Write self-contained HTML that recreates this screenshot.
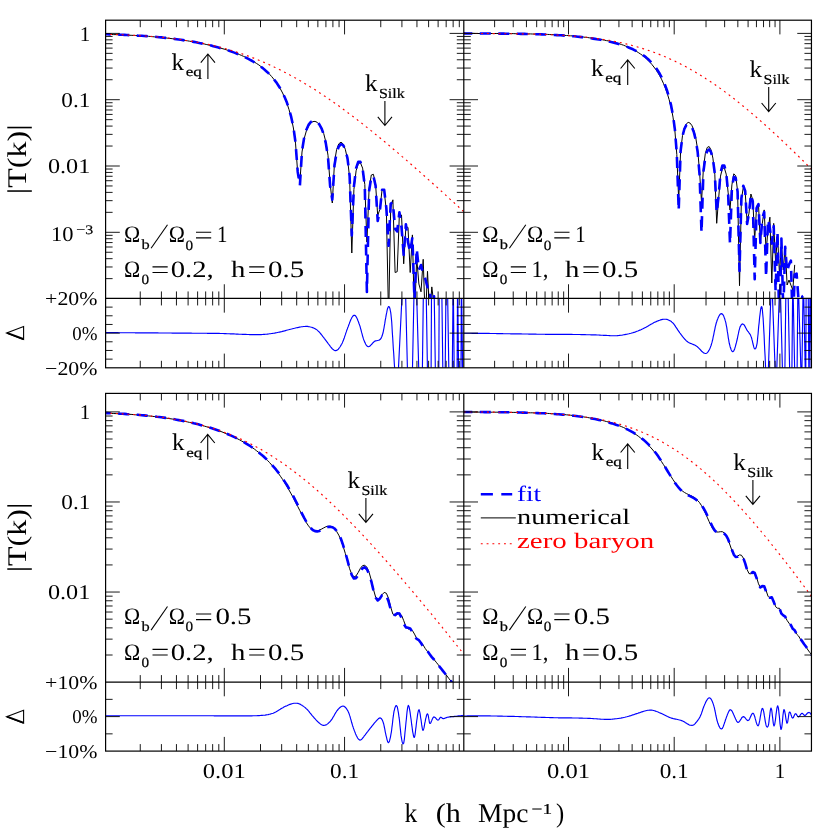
<!DOCTYPE html>
<html><head><meta charset="utf-8"><title>Transfer function</title>
<style>html,body{margin:0;padding:0;background:#fff}svg{display:block;will-change:transform}text{font-family:"Liberation Serif",serif;text-rendering:geometricPrecision}</style>
</head><body>
<svg width="830" height="830" viewBox="0 0 830 830">
<rect width="830" height="830" fill="#fff"/>
<defs>
<clipPath id="cTL"><rect x="105.6" y="20.2" width="358.20000000000005" height="278.25"/></clipPath>
<clipPath id="cTR"><rect x="463.8" y="20.2" width="347.65000000000003" height="278.25"/></clipPath>
<clipPath id="cBL"><rect x="105.6" y="393.4" width="358.20000000000005" height="288.70000000000005"/></clipPath>
<clipPath id="cBR"><rect x="463.8" y="393.4" width="347.65000000000003" height="288.70000000000005"/></clipPath>
<clipPath id="rTL"><rect x="105.6" y="298.45" width="358.20000000000005" height="69.35000000000002"/></clipPath>
<clipPath id="rTR"><rect x="463.8" y="298.45" width="347.65000000000003" height="69.35000000000002"/></clipPath>
<clipPath id="rBL"><rect x="105.6" y="682.1" width="358.20000000000005" height="69.0"/></clipPath>
<clipPath id="rBR"><rect x="463.8" y="682.1" width="347.65000000000003" height="69.0"/></clipPath>
</defs>
<g clip-path="url(#cTL)" fill="none" stroke-linejoin="round">
<path d="M81.3,33.8 83.5,33.8 85.7,33.8 87.8,33.9 90,33.9 92.2,34 94.3,34 96.5,34 98.6,34.1 100.8,34.1 103,34.2 105.1,34.2 107.3,34.4 109.5,34.4 111.6,34.5 113.8,34.6 116,34.6 118.1,34.7 120.3,34.8 122.4,34.9 124.6,35 126.8,35.1 128.9,35.2 131.1,35.3 133.3,35.4 135.4,35.5 137.6,35.6 139.8,35.8 141.9,35.9 144.1,36 146.2,36.2 148.4,36.3 150.6,36.5 152.7,36.7 154.9,36.9 157.1,37.1 159.2,37.3 161.4,37.5 163.6,37.7 165.7,37.9 167.9,38.2 170,38.4 172.2,38.7 174.4,38.9 176.5,39.2 178.7,39.5 180.9,39.8 183,40.1 185.2,40.5 187.4,40.8 189.5,41.2 191.7,41.5 193.8,41.9 196,42.3 198.2,42.7 200.3,43.2 202.5,43.6 204.7,44.1 206.8,44.6 209,45.1 211.2,45.6 213.3,46.1 215.5,46.7 217.6,47.3 219.8,47.9 222,48.5 224.1,49.1 226.3,49.8 228.5,50.5 230.6,51.2 232.8,52 235,52.8 237.1,53.6 239.3,54.5 241.4,55.4 243.6,56.4 245.8,57.4 247.9,58.4 250.1,59.6 252.3,60.8 254.4,62.1 256.6,63.5 258.8,64.9 260.9,66.5 263.1,68.2 265.2,70.1 267.4,72.1 269.6,74.3 271.7,76.6 273.9,79.3 276.1,82.1 278.2,85.3 280.4,88.9 282.6,93 284.7,97.7 286.9,103.1 289,109.6 291.2,117.5 293.4,128 295.5,143.1 297.7,172.6 299.9,181.6 302,152 304.2,138.5 306.4,130.8 308.5,126 310.7,123.1 312.8,121.6 315,121.4 317.2,122.3 319.3,124.5 321.5,128 323.7,133.5 325.8,141.8 328,155.3 330.1,183.4 332.3,203 334.5,162.2 336.6,149.6 338.8,143.8 341,142.2 343.1,143.9 345.3,149.3 347.5,159.1 349.6,177.3 351.8,253 353.9,189.5 356.1,170.8 358.3,163.6 360.4,162.7 362.6,168.1 364.8,184.5 366.9,242 369.1,188.7 371.3,175 373.4,174.3 375.6,184.5 377.7,215.4 379.9,209.4 382.1,189.4 384.2,191 386.4,211.3 388.6,320 390.7,207.4 392.9,199.8 395.1,272.5 397.2,271.7 399.4,213.4 401.5,215 403.7,263.8 405.9,226.8 408,227.4 410.2,272.5 412.4,234.9 414.5,320 416.7,257.8 418.9,284 421,291.8 423.2,259.3 425.3,322.8 427.5,271.3 429.7,316.4 431.8,286.9 434,304.9 436.2,315.9 438.3,306.9 440.5,350 442.7,335.7 444.8,332.3 447,354.2 449.1,475.5 451.3,377.3 453.5,375.8 455.6,384.5 457.8,397.4 460,411.6 462.1,425 464.3,437.3 466.5,449.4 468.6,464 470.8,486.6 472.9,497.5 475.1,497.5 477.3,497.5 479.4,497.5 481.6,497.5 483.8,497.5 485.9,497.5 488.1,497.5 490.3,497.5 492.4,497.5 494.6,497.5 496.7,497.5 498.9,497.5 501.1,497.5 503.2,497.5 505.4,497.5 507.6,497.5" stroke="#000" stroke-width="1"/>
<path d="M81.3,33.8 83.5,33.8 85.7,33.8 87.8,33.9 90,33.9 92.2,34 94.3,34 96.5,34 98.6,34.1 100.8,34.1 103,34.2 105.1,34.2 107.3,34.3 109.5,34.4 111.6,34.4 113.8,34.5 116,34.6 118.1,34.6 120.3,34.7 122.4,34.8 124.6,34.9 126.8,35 128.9,35.1 131.1,35.2 133.3,35.3 135.4,35.4 137.6,35.6 139.8,35.7 141.9,35.8 144.1,36 146.2,36.1 148.4,36.3 150.6,36.5 152.7,36.7 154.9,36.8 157.1,37 159.2,37.2 161.4,37.4 163.6,37.7 165.7,37.9 167.9,38.1 170,38.4 172.2,38.7 174.4,38.9 176.5,39.2 178.7,39.5 180.9,39.8 183,40.1 185.2,40.5 187.4,40.8 189.5,41.2 191.7,41.5 193.8,41.9 196,42.3 198.2,42.8 200.3,43.2 202.5,43.6 204.7,44.1 206.8,44.6 209,45.1 211.2,45.6 213.3,46.2 215.5,46.7 217.6,47.3 219.8,47.9 222,48.5 224.1,49.2 226.3,49.9 228.5,50.6 230.6,51.3 232.8,52.1 235,52.9 237.1,53.8 239.3,54.7 241.4,55.6 243.6,56.6 245.8,57.6 247.9,58.7 250.1,59.8 252.3,61 254.4,62.3 256.6,63.7 258.8,65.2 260.9,66.8 263.1,68.4 265.2,70.3 267.4,72.2 269.6,74.4 271.7,76.7 273.9,79.3 276.1,82.1 278.2,85.2 280.4,88.7 282.6,92.7 284.7,97.3 286.9,102.6 289,109 291.2,116.9 293.4,127.2 295.5,142.3 297.7,171.7 299.9,185.6 302,151 304.2,137.4 306.4,129.7 308.5,124.9 310.7,122.1 312.8,120.7 315,120.6 317.2,121.8 319.3,124.3 321.5,128.3 323.7,134.3 325.8,143.1 328,157 330.1,185.7 332.3,199.7 334.5,165.3 336.6,152.6 338.8,146.5 341,144.2 343.1,145.2 345.3,149.5 347.5,158.4 349.6,175.6 351.8,235.4 353.9,186.7 356.1,168.1 358.3,161.7 360.4,161.9 362.6,168.6 364.8,186.1 366.9,291.9 369.1,191 371.3,177 373.4,175.9 375.6,185.8 377.7,220.9 379.9,210.5 382.1,189.8 384.2,189.9 386.4,208.5 388.6,245.8 390.7,203.6 392.9,202.4 395.1,229 397.2,231.4 399.4,212.3 401.5,227.2 403.7,254.8 405.9,224.2 408,242.5 410.2,252.2 412.4,237.2 414.5,300.7 416.7,248.7 418.9,269.8 421,265 423.2,273.4 425.3,278.8 427.5,287.2 429.7,287.3 431.8,316.1 434,296.2 436.2,346.5 438.3,318.3 440.5,322.1 442.7,373.6 444.8,351.8 447,347.7 449.1,362.1 451.3,392.2 453.5,497.5 455.6,420.7 457.8,419.8 460,428.4 462.1,442.2 464.3,461.9 466.5,496.9 468.6,497.5 470.8,494.6 472.9,497.4 475.1,497.5 477.3,497.5 479.4,497.5 481.6,497.5 483.8,497.5 485.9,497.5 488.1,497.5 490.3,497.5 492.4,497.5 494.6,497.5 496.7,497.5 498.9,497.5 501.1,497.5 503.2,497.5 505.4,497.5 507.6,497.5" stroke="#0000ff" stroke-width="2.6" stroke-dasharray="11 7.5"/>
<path d="M98.5,34.1 100.9,34.1 103.2,34.2 105.5,34.2 107.9,34.3 110.2,34.4 112,34.4 113.7,34.5 115.5,34.5 117.2,34.6 118.9,34.7 120.7,34.7 122.4,34.8 124.2,34.9 125.9,34.9 127.7,35 129.4,35.1 131.2,35.2 132.9,35.3 134.7,35.4 136.4,35.5 138.2,35.6 139.9,35.7 141.7,35.8 143.4,35.9 145.2,36 146.9,36.1 148.7,36.2 150.4,36.4 152.2,36.5 153.9,36.7 155.7,36.8 157.4,37 159.2,37.1 160.9,37.3 162.7,37.4 164.4,37.6 166.2,37.8 167.9,38 169.7,38.2 171.4,38.4 173.2,38.6 174.9,38.8 176.7,39 178.4,39.3 180.1,39.5 181.9,39.7 183.6,40 185.4,40.3 187.1,40.5 188.9,40.8 190.6,41.1 192.4,41.4 194.1,41.7 195.9,42 197.6,42.3 199.4,42.6 201.1,43 202.9,43.3 204.6,43.7 206.4,44.1 208.1,44.4 209.9,44.8 211.6,45.2 213.4,45.6 215.1,46 216.9,46.5 218.6,46.9 220.4,47.3 222.1,47.8 223.9,48.3 225.6,48.8 227.4,49.3 229.1,49.8 230.9,50.3 232.6,50.8 234.4,51.3 236.1,51.9 237.9,52.5 239.6,53 241.4,53.6 243.1,54.2 244.8,54.8 246.6,55.5 248.3,56.1 250.1,56.7 251.8,57.4 253.6,58.1 255.3,58.8 257.1,59.5 258.8,60.2 260.6,60.9 262.3,61.6 264.1,62.4 265.8,63.2 267.6,63.9 269.3,64.7 271.1,65.5 272.8,66.3 274.6,67.2 276.3,68 278.1,68.9 279.8,69.7 281.6,70.6 283.3,71.5 285.1,72.4 286.8,73.3 288.6,74.2 290.3,75.2 291.5,75.8 292.6,76.5 293.8,77.1 295,77.8 296.1,78.4 297.3,79.1 298.5,79.7 299.6,80.4 300.8,81.1 302,81.8 303.1,82.5 304.3,83.2 305.5,83.9 306.6,84.6 307.8,85.3 309,86 310.1,86.7 311.3,87.4 312.5,88.2 313.6,88.9 314.8,89.6 316,90.4 317.1,91.1 318.3,91.9 319.5,92.7 320.6,93.4 321.8,94.2 323,95 324.1,95.8 325.3,96.5 326.5,97.3 327.6,98.1 328.8,98.9 329.9,99.7 331.1,100.5 332.3,101.3 333.4,102.2 334.6,103 335.8,103.8 336.9,104.6 338.1,105.5 339.3,106.3 340.4,107.2 341.6,108 342.8,108.9 343.9,109.7 345.1,110.6 346.3,111.4 347.4,112.3 348.6,113.2 349.8,114 350.9,114.9 352.1,115.8 353.3,116.7 354.4,117.6 355.6,118.5 356.8,119.4 357.9,120.3 359.1,121.2 360.3,122.1 361.4,123 362.6,123.9 363.8,124.8 364.9,125.7 366.1,126.7 367.3,127.6 368.4,128.5 369.6,129.5 370.7,130.4 371.9,131.3 373.1,132.3 374.2,133.2 375.4,134.2 376.6,135.1 377.7,136.1 378.9,137 380.1,138 381.2,138.9 382.4,139.9 383.6,140.9 384.7,141.8 385.9,142.8 387.1,143.8 388.2,144.7 389.4,145.7 390.6,146.7 391.7,147.7 392.9,148.7 394.1,149.7 395.2,150.6 396.4,151.6 397.6,152.6 398.7,153.6 399.9,154.6 401.1,155.6 402.2,156.6 403.4,157.6 404.6,158.6 405.7,159.6 406.9,160.6 408.1,161.6 409.2,162.7 410.4,163.7 411.6,164.7 412.7,165.7 413.9,166.7 415,167.7 416.2,168.8 417.4,169.8 418.5,170.8 419.7,171.8 420.9,172.9 422,173.9 423.2,174.9 424.4,176 425.5,177 426.7,178 427.9,179.1 429,180.1 430.2,181.2 431.4,182.2 432.5,183.2 433.7,184.3 434.9,185.3 436,186.4 437.2,187.4 438.4,188.5 439.5,189.5 440.7,190.6 441.9,191.6 443,192.7 444.2,193.8 445.4,194.8 446.5,195.9 447.7,196.9 448.9,198 450,199.1 451.2,200.1 452.4,201.2 453.5,202.3 454.7,203.3 455.8,204.4 457,205.5 458.2,206.5 459.3,207.6 460.5,208.7 461.7,209.8 462.8,210.8 464,211.9 465.2,213 466.3,214.1 467.5,215.2 468.7,216.2 469.8,217.3 471,218.4 472.2,219.5 473.3,220.6 474.5,221.7 475.7,222.8 476.8,223.8 478,224.9 479.2,226 480.3,227.1 481.5,228.2 482.7,229.3 483.8,230.4 485,231.5 486.2,232.6 487.3,233.7 488.5,234.8 489.7,235.9 490.8,237 492,238.1 493.2,239.2 494.3,240.3 495.5,241.4 496.7,242.5 497.8,243.6 499,244.7 500.1,245.8 501.3,247 502.5,248.1 503.6,249.2 504.8,250.3 506,251.4" stroke="#ff0000" stroke-width="1.15" stroke-dasharray="1.9 3.9"/>
</g>
<g clip-path="url(#rTL)" fill="none" stroke="#0000ff" stroke-width="1.15" stroke-linejoin="round">
<path d="M105.6,332.6 106.9,332.6 108.3,332.6 109.6,332.6 110.9,332.6 112.3,332.6 113.6,332.6 114.9,332.6 116.3,332.6 117.6,332.6 119,332.7 120.3,332.7 121.6,332.7 123,332.7 124.3,332.7 125.6,332.7 127,332.7 128.3,332.7 129.6,332.7 131,332.7 132.3,332.7 133.6,332.7 135,332.8 136.3,332.8 137.6,332.8 139,332.8 140.3,332.8 141.6,332.8 143,332.8 144.3,332.8 145.7,332.8 147,332.9 148.3,332.9 149.7,332.9 151,332.9 152.3,332.9 153.7,332.9 155,332.9 156.3,332.9 157.7,332.9 159,333 160.3,333 161.7,333 163,333 164.3,333 165.7,333 167,333 168.4,333 169.7,333 171,333 172.4,333.1 173.7,333.1 175,333.1 176.4,333.1 177.7,333.1 179,333.1 180.4,333.1 181.7,333.1 183,333.1 184.4,333.1 185.7,333.1 187,333.1 188.4,333.1 189.7,333.1 191.1,333.1 192.4,333.2 193.7,333.2 195.1,333.2 196.4,333.2 197.7,333.2 199.1,333.2 200.4,333.2 201.7,333.2 203.1,333.2 204.4,333.2 205.7,333.2 207.1,333.3 208.4,333.3 209.7,333.3 211.1,333.3 212.4,333.3 213.7,333.3 215.1,333.4 216.4,333.4 217.8,333.4 219.1,333.4 220.4,333.5 221.8,333.5 223.1,333.5 224.4,333.6 225.8,333.6 227.1,333.7 228.4,333.7 229.8,333.8 231.1,333.8 232.4,333.9 233.8,333.9 235.1,334 236.4,334.1 237.8,334.1 239.1,334.2 240.5,334.2 241.8,334.3 243.1,334.3 244.5,334.4 245.8,334.4 247.1,334.5 248.5,334.5 249.8,334.6 251.1,334.6 252.5,334.6 253.8,334.6 255.1,334.6 255.8,334.6 257.1,334.6 258.5,334.6 259.8,334.6 261.1,334.6 262.5,334.5 263.5,334.4 264.5,334.4 265.5,334.3 266.5,334.2 267.5,334.1 268.5,334 269.5,333.8 270.5,333.7 271.5,333.5 272.5,333.4 273.5,333.2 274.5,333.1 275.5,332.9 276.5,332.7 277.5,332.5 278.5,332.3 279.5,332.1 280.5,331.9 281.5,331.7 282.5,331.4 283.5,331.1 284.5,330.9 285.5,330.6 286.5,330.3 287.5,330 288.5,329.8 289.5,329.5 290.5,329.2 291.5,329 292.5,328.7 293.5,328.5 294.5,328.3 295.5,328 296.5,327.8 297.5,327.6 298.5,327.4 299.5,327.1 300.5,327 301.5,326.8 302.5,326.7 303.5,326.5 304.5,326.5 305.9,326.4 306.2,326.4 307.5,326.4 308.5,326.6 309.5,326.7 310.5,327 311.6,327.3 312.6,327.6 313.6,328 314.6,328.5 315.6,329 316.2,329.4 316.9,329.9 317.6,330.4 318.2,331.1 318.9,331.7 319.6,332.4 320.2,333.2 320.9,334 321.6,334.8 322.2,335.7 322.9,336.6 323.6,337.4 324.2,338.3 324.9,339.2 325.6,340.1 326.2,340.9 326.9,341.8 327.6,342.7 328.2,343.6 328.9,344.5 329.6,345.4 330.2,346.3 330.9,347.2 331.6,348 332.2,348.7 332.9,349.3 333.6,349.8 334.2,350.2 335.2,350.6 335.6,350.6 336.6,350.4 337.6,349.8 338.3,349.2 338.9,348.4 339.6,347.5 340.3,346.5 340.9,345.4 341.6,344.2 342.3,342.9 342.9,341.4 343.3,340.6 343.6,339.7 343.9,338.8 344.3,337.9 344.6,336.9 344.9,335.9 345.3,334.9 345.6,333.9 345.9,332.9 346.3,331.9 346.6,330.9 346.9,329.9 347.3,329 347.6,328.1 347.9,327.2 348.3,326.4 348.6,325.5 348.9,324.6 349.3,323.7 349.6,322.8 349.9,321.9 350.3,321.1 350.6,320.3 350.9,319.5 351.3,318.8 351.9,317.5 352.6,316.5 353.3,315.7 353.9,315.3 354.3,315.2 355.3,315.6 355.9,316.4 356.6,317.5 357.3,318.9 357.6,319.7 357.9,320.5 358.3,321.4 358.6,322.3 358.9,323.2 359.3,324.2 359.6,325.1 360,326.2 360.3,327.3 360.6,328.6 361,329.8 361.3,331.1 361.6,332.4 362,333.7 362.3,334.9 362.6,336.1 363,337.3 363.3,338.4 363.6,339.4 364,340.3 364.3,341.1 364.6,341.9 365,342.6 365.6,344 366.3,345.1 367,346 367.6,346.5 368.3,346.7 369.3,346.4 370,346 370.6,345.4 371.3,344.7 372,344 372.6,343.2 373.3,342.5 374,341.8 374.6,341.3 375.6,340.9 376.6,340.7 377.6,340.5 378.6,340.3 379.6,339.9 380.3,339.3 381,338.4 381.6,337 382,336.2 382.3,335.3 382.6,334.2 383,333 383.3,331.6 383.6,329.9 384,328 384.3,326 384.7,323.9 385,321.8 385.3,319.8 385.7,317.9 386,316.1 386.3,314.4 386.7,312.7 387,311 387.3,309.5 387.7,308.3 388,307.3 388.7,306.5 389.3,307 389.7,307.8 390,308.9 390.3,310.5 390.7,312.4 391,314.8 391.3,317.7 391.7,321.8 392,326.8 392.3,332.3 392.7,337.8 393,343 393.3,348.2 393.7,353.3 394,358.4 394.3,363.5 394.7,368.7 395,373.9 395.3,379.2 395.7,384.5 396,390 397.3,392.1 403.1,274.2 405.1,274.2 408,392.1 412,392.1 414.4,274.2 416.1,274.2 419.4,392.1 422.1,392.1 423.6,274.2 425.9,274.2 427.8,392.1 431,392.1 431.6,274.2 433.9,274.2 435.7,392.1 438.7,392.1 439.3,274.2 441.6,274.2 443.1,392.1 445,392.1 446.1,274.2 447.3,274.2 449.2,392.1 452.1,392.1 453.2,274.2 454.4,392.1 457,392.1 457.6,274.2 458.8,392.1 460.9,392.1 461.4,274.2 462.9,392.1"/>
</g>
<g clip-path="url(#cTR)" fill="none" stroke-linejoin="round">
<path d="M442.8,33.4 444.7,33.4 446.6,33.4 448.5,33.4 450.4,33.4 452.3,33.4 454.2,33.4 456.2,33.4 458.1,33.4 460,33.4 461.9,33.4 463.8,33.4 465.7,33.4 467.6,33.4 469.5,33.4 471.4,33.4 473.3,33.4 475.2,33.5 477.1,33.5 479,33.5 480.9,33.5 482.8,33.5 484.7,33.5 486.6,33.5 488.5,33.5 490.4,33.5 492.3,33.5 494.2,33.5 496.1,33.5 498,33.5 499.9,33.5 501.8,33.5 503.7,33.6 505.6,33.6 507.5,33.6 509.4,33.6 511.3,33.6 513.2,33.6 515.1,33.7 517,33.7 518.9,33.7 520.8,33.7 522.7,33.8 524.6,33.8 526.5,33.8 528.4,33.9 530.3,33.9 532.2,34 534.1,34 536,34 537.9,34.1 539.8,34.2 541.7,34.2 543.6,34.3 545.5,34.4 547.4,34.4 549.3,34.5 551.2,34.6 553.1,34.7 555,34.8 556.9,34.9 558.8,35 560.7,35.1 562.7,35.2 564.6,35.4 566.5,35.5 568.4,35.6 570.3,35.8 572.2,35.9 574.1,36.1 576,36.3 577.9,36.5 579.8,36.7 581.7,36.9 583.6,37.1 585.5,37.3 587.4,37.5 589.3,37.8 591.2,38 593.1,38.3 595,38.6 596.9,38.9 598.8,39.2 600.7,39.5 602.6,39.8 604.5,40.2 606.4,40.6 608.3,40.9 610.2,41.4 612.1,41.8 614,42.3 615.9,42.8 617.8,43.3 619.7,43.9 621.6,44.6 623.5,45.2 625.4,46 627.3,46.7 629.2,47.6 631.1,48.5 633,49.4 634.9,50.4 636.8,51.6 638.7,52.8 640.6,54.1 642.5,55.4 644.4,57 646.3,58.6 648.2,60.4 650.1,62.4 652,64.6 653.9,67 655.8,69.5 657.7,72.4 659.6,75.6 661.5,79.2 663.4,83.3 665.3,87.9 667.2,93.2 669.1,99.5 671.1,107.2 673,117.1 674.9,130.8 676.8,154.5 678.7,200 680.6,151.1 682.5,135.6 684.4,127.9 686.3,123.9 688.2,122.4 690.1,123.1 692,125.7 693.9,130.4 695.8,138 697.7,150 699.6,172.3 701.5,202 703.4,168.5 705.3,153.6 707.2,147.5 709.1,146.5 711,149.8 712.9,158.1 714.8,174.2 716.7,223.3 718.6,198.8 720.5,176.1 722.4,168.5 724.3,167.9 726.2,174.1 728.1,192.2 730,210 731.9,184.9 733.8,173.8 735.7,175.8 737.6,191.1 739.5,285.7 741.4,199.5 743.3,187.3 745.2,192 747.1,222 749,213.1 750.9,194 752.8,200 754.7,240 756.6,206 758.5,204.8 760.4,243 762.3,223.5 764.2,209.9 766.1,252 768,229.1 769.9,217.2 771.8,283 773.7,223.4 775.6,262 777.5,234.2 779.5,275 781.4,242.6 783.3,270 785.2,246.2 787.1,285 789,280 790.9,285.1 792.8,290 794.7,264.9" stroke="#000" stroke-width="1"/>
<path d="M442.8,33.4 444.7,33.4 446.6,33.4 448.5,33.4 450.4,33.4 452.3,33.4 454.2,33.4 456.2,33.4 458.1,33.4 460,33.4 461.9,33.4 463.8,33.4 465.7,33.5 467.6,33.5 469.5,33.5 471.4,33.5 473.3,33.5 475.2,33.5 477.1,33.5 479,33.5 480.9,33.5 482.8,33.5 484.7,33.5 486.6,33.5 488.5,33.5 490.4,33.5 492.3,33.6 494.2,33.6 496.1,33.6 498,33.6 499.9,33.6 501.8,33.6 503.7,33.6 505.6,33.7 507.5,33.7 509.4,33.7 511.3,33.7 513.2,33.7 515.1,33.8 517,33.8 518.9,33.8 520.8,33.9 522.7,33.9 524.6,33.9 526.5,34 528.4,34 530.3,34.1 532.2,34.1 534.1,34.2 536,34.2 537.9,34.3 539.8,34.3 541.7,34.4 543.6,34.5 545.5,34.5 547.4,34.6 549.3,34.7 551.2,34.8 553.1,34.9 555,35 556.9,35.1 558.8,35.2 560.7,35.3 562.7,35.4 564.6,35.6 566.5,35.7 568.4,35.9 570.3,36 572.2,36.2 574.1,36.3 576,36.5 577.9,36.7 579.8,36.9 581.7,37.1 583.6,37.3 585.5,37.5 587.4,37.8 589.3,38 591.2,38.3 593.1,38.6 595,38.9 596.9,39.2 598.8,39.5 600.7,39.8 602.6,40.2 604.5,40.6 606.4,40.9 608.3,41.3 610.2,41.8 612.1,42.2 614,42.7 615.9,43.2 617.8,43.7 619.7,44.3 621.6,44.9 623.5,45.5 625.4,46.2 627.3,46.9 629.2,47.7 631.1,48.5 633,49.3 634.9,50.3 636.8,51.3 638.7,52.3 640.6,53.5 642.5,54.8 644.4,56.1 646.3,57.6 648.2,59.3 650.1,61.1 652,63.1 653.9,65.3 655.8,67.7 657.7,70.5 659.6,73.5 661.5,77 663.4,81 665.3,85.7 667.2,91 669.1,97.5 671.1,105.4 673,115.5 674.9,129.6 676.8,153.7 678.7,210.5 680.6,151.2 682.5,136.2 684.4,128.8 686.3,125.2 688.2,124 690.1,124.8 692,127.5 693.9,132.4 695.8,140.1 697.7,152.4 699.6,175.1 701.5,232.7 703.4,171.9 705.3,157.2 707.2,151 709.1,149.5 711,152 712.9,159 714.8,173.5 716.7,212.7 718.6,196.2 720.5,173.1 722.4,165.5 724.3,165.5 726.2,172.7 728.1,192.8 730,243.9 731.9,188 733.8,176.9 735.7,177.9 737.6,191.8 739.5,271 741.4,198.1 743.3,185.8 745.2,191 747.1,224 749,213 750.9,194.5 752.8,201.7 754.7,279.2 756.6,208.1 758.5,204.1 760.4,242.9 762.3,218.1 764.2,212 766.1,277 768,219.6 769.9,228.3 771.8,243.6 773.7,226.1 775.6,291.1 777.5,231.5 779.5,338.4 781.4,238.5 783.3,311.3 785.2,246.9 787.1,271.7 789,264.6 790.9,260.6 792.8,330 794.7,274.4 796.6,273.6 798.5,299.8 800.4,324 802.3,296.5 804.2,295.1 806.1,301.5 808,311.4 809.9,321.6 811.8,329.9 813.7,335.3 815.6,339.2 817.5,344.7" stroke="#0000ff" stroke-width="2.6" stroke-dasharray="11 7.5"/>
<path d="M458,33.4 460,33.4 462.1,33.4 464.1,33.4 466.2,33.5 468.2,33.5 470.3,33.5 472.3,33.5 474.4,33.5 476.4,33.5 478.5,33.5 480.5,33.5 482.6,33.5 484.6,33.5 486.7,33.5 488.7,33.5 490.8,33.5 492.8,33.6 494.9,33.6 496.9,33.6 499,33.6 501,33.6 503,33.6 505.1,33.7 507.1,33.7 509.2,33.7 511.2,33.7 513.3,33.7 515.3,33.8 517.4,33.8 519.4,33.8 521.5,33.9 523.5,33.9 525.6,33.9 527.6,34 529.7,34 531.7,34.1 533.8,34.1 535.8,34.2 537.9,34.2 539.9,34.3 542,34.4 544,34.4 546.1,34.5 548.1,34.6 550.2,34.7 552.2,34.8 554.3,34.9 556.3,35 558.4,35.1 560.4,35.2 562.5,35.3 564.5,35.4 566.6,35.5 568.6,35.7 570.7,35.8 572.7,36 574.8,36.1 576.8,36.3 578.9,36.5 580.9,36.7 583,36.9 585,37.1 587.1,37.3 589.1,37.5 591.2,37.8 593.2,38 595.3,38.3 597.3,38.6 599.4,38.9 601.4,39.2 603.5,39.5 605.5,39.8 607.6,40.2 609.1,40.4 610.6,40.7 612.2,41 613.7,41.3 615.3,41.6 616.8,41.9 618.3,42.2 619.9,42.5 621.4,42.8 622.9,43.2 624.5,43.5 626,43.9 627.6,44.3 629.1,44.7 630.6,45 632.2,45.5 633.7,45.9 635.2,46.3 636.8,46.7 638.3,47.2 639.8,47.6 641.4,48.1 642.9,48.6 644.5,49.1 646,49.6 647.5,50.1 649.1,50.6 650.6,51.1 652.1,51.7 653.7,52.2 655.2,52.8 656.8,53.4 658.3,54 659.8,54.6 661.4,55.2 662.9,55.8 664.4,56.5 666,57.1 667.5,57.8 669.1,58.5 670.6,59.2 672.1,59.9 673.7,60.6 675.2,61.3 676.7,62.1 678.3,62.8 679.8,63.6 681.3,64.4 682.9,65.2 684.4,66 686,66.8 687.5,67.7 689,68.5 690.6,69.4 692.1,70.2 693.6,71.1 695.2,72 696.7,72.9 698.3,73.9 699.8,74.8 701.3,75.7 702.9,76.7 704.4,77.7 705.9,78.7 707.5,79.7 709,80.7 710.6,81.7 712.1,82.7 713.6,83.8 715.2,84.8 716.7,85.9 718.2,87 719.8,88.1 721.3,89.2 722.8,90.3 724.4,91.4 725.9,92.6 727.5,93.7 729,94.9 730,95.7 731,96.5 732.1,97.2 733.1,98 734.1,98.8 735.1,99.6 736.2,100.5 737.2,101.3 738.2,102.1 739.2,102.9 740.3,103.7 741.3,104.6 742.3,105.4 743.3,106.2 744.4,107.1 745.4,107.9 746.4,108.8 747.4,109.6 748.5,110.5 749.5,111.3 750.5,112.2 751.5,113.1 752.6,114 753.6,114.8 754.6,115.7 755.6,116.6 756.7,117.5 757.7,118.4 758.7,119.3 759.7,120.2 760.8,121.1 761.8,122 762.8,122.9 763.8,123.8 764.9,124.7 765.9,125.6 766.9,126.6 767.9,127.5 769,128.4 770,129.4 771,130.3 772,131.2 773.1,132.2 774.1,133.1 775.1,134.1 776.1,135 777.2,136 778.2,136.9 779.2,137.9 780.2,138.8 781.3,139.8 782.3,140.8 783.3,141.7 784.3,142.7 785.4,143.7 786.4,144.6 787.4,145.6 788.4,146.6 789.5,147.6 790.5,148.6 791.5,149.6 792.5,150.5 793.6,151.5 794.6,152.5 795.6,153.5 796.6,154.5 797.6,155.5 798.7,156.5 799.7,157.5 800.7,158.5 801.7,159.5 802.8,160.5 803.8,161.5 804.8,162.6 805.8,163.6 806.9,164.6 807.9,165.6 808.9,166.6 809.9,167.6 811,168.7 812,169.7 813,170.7 814,171.7 815.1,172.8 816.1,173.8" stroke="#ff0000" stroke-width="1.15" stroke-dasharray="1.9 3.9"/>
</g>
<g clip-path="url(#rTR)" fill="none" stroke="#0000ff" stroke-width="1.15" stroke-linejoin="round">
<path d="M463.6,333.2 464.9,333.2 466.3,333.2 467.6,333.2 468.9,333.2 470.3,333.2 471.6,333.3 472.9,333.3 474.3,333.3 475.6,333.3 477,333.3 478.3,333.3 479.6,333.3 481,333.3 482.3,333.4 483.6,333.4 485,333.4 486.3,333.4 487.6,333.4 489,333.4 490.3,333.5 491.6,333.5 493,333.5 494.3,333.5 495.6,333.5 497,333.6 498.3,333.6 499.7,333.6 501,333.6 502.3,333.6 503.7,333.7 505,333.7 506.3,333.7 507.7,333.7 509,333.7 510.3,333.8 511.7,333.8 513,333.8 514.3,333.8 515.7,333.8 517,333.9 518.4,333.9 519.7,333.9 521,333.9 522.4,334 523.7,334 525,334 526.4,334 527.7,334 529,334.1 530.4,334.1 531.7,334.1 533,334.1 534.4,334.1 535.7,334.1 537,334.2 538.4,334.2 539.7,334.2 541.1,334.2 542.4,334.2 543.7,334.2 545.1,334.3 546.4,334.3 547.7,334.3 549.1,334.3 550.4,334.3 551.7,334.3 553.1,334.3 554.4,334.3 555.7,334.3 557.1,334.3 558.4,334.4 559.7,334.4 561.1,334.4 562.4,334.4 563.8,334.4 565.1,334.4 566.4,334.4 567.8,334.4 569.1,334.4 570.4,334.4 571.8,334.4 573.1,334.5 574.4,334.5 575.8,334.5 577.1,334.5 578.4,334.5 579.8,334.5 581.1,334.6 582.4,334.6 583.8,334.6 585.1,334.6 586.5,334.7 587.8,334.7 589.1,334.7 590.5,334.8 591.8,334.8 593.1,334.8 594.5,334.9 595.8,334.9 597.1,335 598.5,335 599.8,335.1 601.1,335.2 602.1,335.2 603.1,335.3 604.1,335.3 605.2,335.4 606.2,335.4 607.2,335.5 608.2,335.5 609.5,335.6 610.8,335.7 612.2,335.7 613.5,335.7 614.2,335.7 615.5,335.7 616.8,335.7 617.8,335.6 618.8,335.5 619.8,335.4 620.8,335.3 621.8,335.2 622.8,335 623.8,334.8 624.8,334.6 625.9,334.4 626.9,334.2 627.9,334 628.9,333.8 629.9,333.5 630.9,333.3 631.9,333 632.9,332.7 633.9,332.4 634.9,332.1 635.9,331.7 636.9,331.3 637.9,331 638.9,330.5 639.9,330.1 640.9,329.7 641.9,329.2 642.9,328.8 643.9,328.3 644.9,327.8 645.9,327.3 646.9,326.7 647.6,326.3 648.2,325.9 648.9,325.5 649.6,325.1 650.2,324.7 650.9,324.3 651.6,323.9 652.6,323.4 653.6,322.8 654.6,322.3 655.6,321.9 656.6,321.4 657.6,321 658.6,320.6 659.6,320.3 660.6,319.9 661.6,319.6 662.6,319.4 663.6,319.3 664.6,319.2 664.9,319.2 665.9,319.3 666.9,319.4 667.9,319.7 668.9,320.2 669.9,320.7 670.6,321.1 671.3,321.5 671.9,322.1 672.6,322.7 673.3,323.4 673.9,324.2 674.6,325.1 675.3,326.1 675.9,327.1 676.6,328.1 677.3,329.1 677.9,330.1 678.6,331.1 679.3,332.1 679.9,333 680.6,333.9 681.3,334.8 681.9,335.7 682.6,336.6 683.3,337.4 683.9,338.2 684.6,339 685.3,339.7 685.9,340.4 686.6,341 687.3,341.5 687.9,342 688.6,342.4 689.6,342.9 690.6,343.4 691.6,343.8 692.6,344.2 693.6,344.6 694.6,345 695.6,345.5 696.3,346 697,346.4 697.6,347 698.3,347.6 699,348.3 699.6,349 700.3,349.7 701,350.5 701.6,351.2 702.3,351.8 703,352.4 703.6,352.9 704.6,353.3 705.6,353.5 706.6,353.2 707.3,352.6 708,351.9 708.6,350.9 709.3,349.7 710,348.2 710.3,347.5 710.6,346.6 711,345.7 711.3,344.8 711.6,343.7 712,342.4 712.3,341 712.7,339.6 713,338 713.3,336.4 713.7,334.8 714,333.1 714.3,331.5 714.7,329.8 715,328.3 715.3,326.7 715.7,325.3 716,324 716.3,322.8 716.7,321.7 717,320.8 717.3,319.8 717.7,319 718,318.1 718.3,317.4 719,316 719.7,314.9 720.3,314.1 721,313.7 721.3,313.6 722.3,314 723,314.8 723.7,316.1 724,316.9 724.3,317.8 724.7,318.7 725,319.8 725.3,320.9 725.7,322.2 726,323.6 726.3,325.3 726.7,327.2 727,329.2 727.3,331.4 727.7,333.5 728,335.7 728.3,337.8 728.7,339.9 729,341.8 729.3,343.5 729.7,344.9 730,346.2 730.3,347.3 730.7,348.3 731,349.2 731.3,350 732,351.2 732.7,351.7 733.7,351 734.4,349.6 734.7,348.7 735,347.6 735.4,346.5 735.7,345.2 736,344 736.4,342.7 736.7,341.3 737,340 737.4,338.5 737.7,336.9 738,335.3 738.4,333.7 738.7,332.1 739,330.6 739.4,329.3 739.7,328.1 740,327.1 740.4,326.4 741,325.2 741.7,324.3 742.4,323.9 742.7,323.9 743.7,324.4 744.4,325.3 745,326.4 745.7,327.7 746.4,329 747,330.1 747.7,331.1 748.4,331.9 749,332.8 749.7,333.8 750.4,334.9 751,336.4 751.4,337.3 751.7,338.4 752,339.7 752.4,341.1 752.7,342.6 753,344 753.4,345.4 753.7,346.7 754,347.7 754.4,348.5 755,349 755.7,348.4 756.1,347.6 756.4,346.5 756.7,345.2 757.1,343.3 757.4,340.6 757.7,337.3 758.1,333.7 758.4,329.9 758.7,326.4 759.1,323.1 759.4,319.9 759.7,316.8 760.1,313.9 760.4,311.3 760.7,309.1 761.1,307.5 761.4,306.7 761.7,306.6 762.1,307.8 762.4,310.2 762.7,313.7 763.1,318 763.4,323 763.7,328.6 764.1,335.4 764.4,342.7 764.7,349.6 765.1,356.3 765.4,363.2 765.7,370.9 766.1,379.8 766.4,390 767.6,392.1 771.6,274.2 776,392.1 780,274.2 783,392.1 784.6,392.1 786.1,274.2 787.7,274.2 790.1,392.1 791.7,392.1 792.8,274.2 795.1,392.1 796.9,392.1 798,274.2 801.6,392.1 803.3,274.2 805.7,392.1 806.2,274.2 808.1,274.2 809,392.1 810.2,274.2 811.4,392.1"/>
</g>
<g clip-path="url(#cBL)" fill="none" stroke-linejoin="round">
<path d="M81.3,412.4 83.5,412.5 85.7,412.5 87.8,412.5 90,412.6 92.2,412.6 94.3,412.7 96.5,412.8 98.6,412.8 100.8,412.9 103,413 105.1,413 107.3,413.2 109.5,413.3 111.6,413.4 113.8,413.5 116,413.6 118.1,413.7 120.3,413.8 122.4,413.9 124.6,414 126.8,414.2 128.9,414.3 131.1,414.4 133.3,414.6 135.4,414.8 137.6,414.9 139.8,415.1 141.9,415.3 144.1,415.5 146.2,415.7 148.4,415.9 150.6,416.1 152.7,416.4 154.9,416.6 157.1,416.9 159.2,417.1 161.4,417.4 163.6,417.7 165.7,418 167.9,418.4 170,418.7 172.2,419 174.4,419.4 176.5,419.8 178.7,420.2 180.9,420.6 183,421 185.2,421.4 187.4,421.9 189.5,422.4 191.7,422.9 193.8,423.4 196,423.9 198.2,424.4 200.3,425 202.5,425.6 204.7,426.2 206.8,426.8 209,427.5 211.2,428.2 213.3,428.9 215.5,429.6 217.6,430.3 219.8,431.1 222,431.9 224.1,432.8 226.3,433.7 228.5,434.6 230.6,435.5 232.8,436.5 235,437.5 237.1,438.6 239.3,439.7 241.4,440.9 243.6,442.1 245.8,443.4 247.9,444.7 250.1,446.1 252.3,447.6 254.4,449.1 256.6,450.8 258.8,452.5 260.9,454.3 263.1,456.2 265.2,458.2 267.4,460.3 269.6,462.6 271.7,465 273.9,467.5 276.1,470.2 278.2,473.1 280.4,476.2 282.6,479.4 284.7,482.7 286.9,486.3 289,490 291.2,493.9 293.4,497.9 295.5,502.1 297.7,506.4 299.9,510.7 302,514.9 304.2,518.9 306.4,522.7 308.5,525.9 310.7,528.4 312.8,530.1 315,530.9 317.2,530.9 319.3,530.2 321.5,529.1 323.7,527.9 325.8,526.8 328,526.2 330.1,526.2 332.3,526.9 334.5,528.7 336.6,531.4 338.8,535.2 341,540.1 343.1,546.2 345.3,553.4 347.5,561.1 349.6,568.7 351.8,574.4 353.9,577 356.1,575.9 358.3,572.3 360.4,568.3 362.6,565.6 364.8,565.2 366.9,567.3 369.1,572.4 371.3,580.1 373.4,589.2 375.6,597 377.7,600.2 379.9,598.4 382.1,594.7 384.2,592.4 386.4,593.3 388.6,598.5 390.7,607.1 392.9,614.2 395.1,616 397.2,614.3 399.4,613.2 401.5,615.2 403.7,620.6 405.9,626.6 408,629 410.2,628.9 412.4,630.5 414.5,634.1 416.7,638.4 418.9,640.9 421,642.7 423.2,645.1 425.3,648.6 427.5,651.5 429.7,653.6 431.8,656.7 434,659.5 436.2,662.2 438.3,664.8 440.5,667.7 442.7,670.4 444.8,673.1 447,676 449.1,678.8 451.3,681.5 453.5,684.3 455.6,687.1 457.8,689.9 460,692.8 462.1,695.6 464.3,698.2 466.5,701 468.6,703.8 470.8,706.6 472.9,709.4 475.1,712.2 477.3,715 479.4,717.9 481.6,720.7 483.8,723.5 485.9,726.3 488.1,729.2 490.3,732 492.4,734.9 494.6,737.7 496.7,740.6 498.9,743.4 501.1,746.3 503.2,749.1 505.4,752 507.6,754.9" stroke="#000" stroke-width="1"/>
<path d="M81.3,412.4 83.5,412.5 85.7,412.5 87.8,412.5 90,412.6 92.2,412.6 94.3,412.7 96.5,412.8 98.6,412.8 100.8,412.9 103,413 105.1,413 107.3,413.1 109.5,413.2 111.6,413.3 113.8,413.4 116,413.5 118.1,413.6 120.3,413.7 122.4,413.8 124.6,413.9 126.8,414.1 128.9,414.2 131.1,414.3 133.3,414.5 135.4,414.7 137.6,414.8 139.8,415 141.9,415.2 144.1,415.4 146.2,415.6 148.4,415.8 150.6,416 152.7,416.3 154.9,416.5 157.1,416.8 159.2,417 161.4,417.3 163.6,417.6 165.7,417.9 167.9,418.2 170,418.6 172.2,418.9 174.4,419.3 176.5,419.7 178.7,420.1 180.9,420.5 183,420.9 185.2,421.3 187.4,421.8 189.5,422.3 191.7,422.7 193.8,423.3 196,423.8 198.2,424.3 200.3,424.9 202.5,425.5 204.7,426.1 206.8,426.7 209,427.4 211.2,428.1 213.3,428.8 215.5,429.5 217.6,430.2 219.8,431 222,431.8 224.1,432.7 226.3,433.6 228.5,434.5 230.6,435.4 232.8,436.4 235,437.4 237.1,438.5 239.3,439.6 241.4,440.8 243.6,442 245.8,443.3 247.9,444.6 250.1,446 252.3,447.5 254.4,449 256.6,450.7 258.8,452.4 260.9,454.2 263.1,456 265.2,458 267.4,460.1 269.6,462.3 271.7,464.6 273.9,467.1 276.1,469.7 278.2,472.4 280.4,475.3 282.6,478.4 284.7,481.6 286.9,485 289,488.7 291.2,492.5 293.4,496.4 295.5,500.6 297.7,504.9 299.9,509.3 302,513.6 304.2,517.9 306.4,521.8 308.5,525.2 310.7,528 312.8,530 315,531.1 317.2,531.4 319.3,531 321.5,530 323.7,528.9 325.8,527.8 328,527 330.1,526.7 332.3,527.2 334.5,528.5 336.6,530.8 338.8,534.3 341,539 343.1,545.1 345.3,552.3 347.5,560.4 349.6,568.5 351.8,575.1 353.9,578.5 356.1,578.1 358.3,575 360.4,571.1 362.6,568.2 364.8,567.3 366.9,569.2 369.1,573.9 371.3,581.3 373.4,590.1 375.6,597.6 377.7,600.5 379.9,598.5 382.1,595.1 384.2,593.5 386.4,595.7 388.6,601.6 390.7,609.3 392.9,614.6 395.1,615 397.2,613.2 399.4,613.6 401.5,617.8 403.7,623.8 405.9,627.4 408,627.8 410.2,628.5 412.4,632 414.5,636.5 416.7,638.9 418.9,640.2 421,643 423.2,646.6 425.3,649 427.5,651.2 429.7,654.3 431.8,657.1 434,659.5 436.2,662.4 438.3,665.2 440.5,667.8 442.7,670.6 444.8,673.3 447,676.1 449.1,678.8 451.3,681.6 453.5,684.3 455.6,687.1 457.8,689.9 460,692.7 462.1,695.4 464.3,698.2 466.5,701 468.6,703.8 470.8,706.6 472.9,709.4 475.1,712.2 477.3,715 479.4,717.9 481.6,720.7 483.8,723.5 485.9,726.3 488.1,729.2 490.3,732 492.4,734.9 494.6,737.7 496.7,740.6 498.9,743.4 501.1,746.3 503.2,749.1 505.4,752 507.6,754.9" stroke="#0000ff" stroke-width="2.6" stroke-dasharray="11 7.5"/>
<path d="M98.5,412.8 100.9,412.9 102.6,412.9 104.4,413 106.1,413.1 107.9,413.1 109.6,413.2 111.4,413.3 113.1,413.3 114.9,413.4 116.6,413.5 118.4,413.6 120.1,413.7 121.9,413.8 123.6,413.8 125.4,413.9 127.1,414.1 128.9,414.2 130.6,414.3 132.4,414.4 134.1,414.5 135.9,414.6 137.6,414.8 139.3,414.9 141.1,415.1 142.8,415.2 144.6,415.4 146.3,415.5 148.1,415.7 149.8,415.9 151.6,416.1 153.3,416.3 155.1,416.5 156.8,416.7 158.6,416.9 160.3,417.1 162.1,417.3 163.8,417.6 165.6,417.8 167.3,418 169.1,418.3 170.8,418.6 172.6,418.9 174.3,419.2 176.1,419.5 177.8,419.8 179.6,420.1 181.3,420.4 183.1,420.7 184.8,421.1 186.6,421.5 188.3,421.8 190.1,422.2 191.8,422.6 193.6,423 195.3,423.4 197.1,423.9 198.8,424.3 200.6,424.8 202.3,425.2 204,425.7 205.8,426.2 207.5,426.7 209.3,427.2 211,427.8 212.8,428.3 214.5,428.9 216.3,429.4 218,430 219.8,430.6 221.5,431.3 223.3,431.9 225,432.6 226.8,433.2 228.5,433.9 230.3,434.6 232,435.3 233.8,436 235.5,436.8 237.3,437.5 239,438.3 240.8,439.1 242.5,439.9 244.3,440.7 246,441.6 247.8,442.4 249.5,443.3 251.3,444.2 253,445.1 254.8,446 256.5,447 257.7,447.6 258.8,448.3 260,448.9 261.2,449.6 262.3,450.3 263.5,450.9 264.7,451.6 265.8,452.3 267,453 268.2,453.7 269.3,454.4 270.5,455.2 271.7,455.9 272.8,456.6 274,457.4 275.2,458.1 276.3,458.9 277.5,459.7 278.7,460.5 279.8,461.2 281,462 282.2,462.8 283.3,463.6 284.5,464.5 285.7,465.3 286.8,466.1 288,467 289.1,467.8 290.3,468.7 291.5,469.5 292.6,470.4 293.8,471.3 295,472.2 296.1,473 297.3,473.9 298.5,474.9 299.6,475.8 300.8,476.7 302,477.6 303.1,478.6 304.3,479.5 305.5,480.4 306.6,481.4 307.8,482.4 309,483.3 310.1,484.3 311.3,485.3 312.5,486.3 313.6,487.3 314.8,488.3 316,489.3 317.1,490.3 318.3,491.4 319.5,492.4 320.6,493.4 321.8,494.5 323,495.5 324.1,496.6 325.3,497.7 326.5,498.7 327.6,499.8 328.8,500.9 329.9,502 331.1,503.1 332.3,504.2 333.4,505.3 334.6,506.4 335.8,507.6 336.9,508.7 338.1,509.8 339.3,511 340.4,512.1 341.6,513.3 342.8,514.4 343.9,515.6 345.1,516.7 346.3,517.9 347.4,519.1 348.6,520.3 349.8,521.5 350.9,522.7 352.1,523.9 353.3,525.1 354.4,526.3 355.6,527.5 356.8,528.7 357.9,529.9 359.1,531.1 360.3,532.4 361.4,533.6 362.6,534.9 363.8,536.1 364.9,537.3 366.1,538.6 367.3,539.9 368.4,541.1 369.6,542.4 370.7,543.7 371.9,544.9 373.1,546.2 374.2,547.5 375.4,548.8 376.6,550.1 377.7,551.4 378.9,552.7 380.1,554 381.2,555.3 382.4,556.6 383.6,557.9 384.7,559.2 385.9,560.5 387.1,561.8 388.2,563.2 389.4,564.5 390.6,565.8 391.7,567.2 392.9,568.5 394.1,569.8 395.2,571.2 396.4,572.5 397.6,573.9 398.7,575.2 399.9,576.6 401.1,577.9 402.2,579.3 403.4,580.7 404.6,582 405.7,583.4 406.9,584.8 408.1,586.1 409.2,587.5 410.4,588.9 411.6,590.3 412.7,591.6 413.9,593 415,594.4 416.2,595.8 417.4,597.2 418.5,598.6 419.7,600 420.9,601.4 422,602.8 423.2,604.2 424.4,605.6 425.5,607 426.7,608.4 427.9,609.8 429,611.2 430.2,612.6 431.4,614 432.5,615.5 433.7,616.9 434.9,618.3 436,619.7 437.2,621.2 438.4,622.6 439.5,624 440.7,625.4 441.9,626.9 443,628.3 444.2,629.7 445.4,631.2 446.5,632.6 447.7,634.1 448.9,635.5 450,637 451.2,638.4 452.4,639.9 453.5,641.3 454.7,642.8 455.8,644.2 457,645.7 458.2,647.1 459.3,648.6 460.5,650 461.7,651.5 462.8,653 464,654.4 465.2,655.9 466.3,657.4 467.5,658.8 468.7,660.3 469.8,661.8 471,663.2 472.2,664.7 473.3,666.2 474.5,667.7 475.7,669.1 476.8,670.6 478,672.1 479.2,673.6 480.3,675.1 481.5,676.6 482.7,678 483.8,679.5 485,681 486.2,682.5 487.3,684 488.5,685.5 489.7,687 490.8,688.5 492,690 493.2,691.5 494.3,693 495.5,694.5 496.7,696 497.8,697.5 499,699 500.1,700.5 501.3,702 502.5,703.5 503.6,705 504.8,706.6 506,708.1" stroke="#ff0000" stroke-width="1.15" stroke-dasharray="1.9 3.9"/>
</g>
<g clip-path="url(#rBL)" fill="none" stroke="#0000ff" stroke-width="1.15" stroke-linejoin="round">
<path d="M105.6,715.7 106.9,715.7 108.3,715.7 109.6,715.7 110.9,715.7 112.3,715.7 113.6,715.7 114.9,715.7 116.3,715.7 117.6,715.7 119,715.7 120.3,715.7 121.6,715.7 123,715.7 124.3,715.7 124.6,715.7 126,715.7 127.3,715.7 128.6,715.7 130,715.7 131.3,715.7 132.6,715.7 134,715.7 135.3,715.7 136.6,715.7 138,715.7 139.3,715.7 140.7,715.7 142,715.7 143.3,715.7 144.7,715.7 146,715.7 147.3,715.7 148.7,715.7 150,715.7 151.3,715.7 152.7,715.7 154,715.7 155.3,715.7 156.7,715.7 158,715.7 159.3,715.7 160.7,715.7 162,715.7 163.4,715.7 164.7,715.7 166,715.7 167.4,715.7 168.7,715.7 170,715.7 171.4,715.7 172.7,715.7 174,715.7 175.4,715.7 176.7,715.7 178,715.7 179,715.7 180.4,715.7 181.7,715.7 183,715.7 184.4,715.7 185.7,715.7 187.1,715.7 188.4,715.7 189.7,715.7 191.1,715.7 192.4,715.7 193.7,715.7 195.1,715.7 196.4,715.7 197.7,715.7 199.1,715.7 200.4,715.7 201.7,715.7 203.1,715.7 204.4,715.7 205.7,715.7 207.1,715.7 208.4,715.7 209.8,715.7 211.1,715.7 212.4,715.7 213.8,715.8 215.1,715.8 216.4,715.8 217.8,715.8 219.1,715.8 220.4,715.8 221.8,715.8 223.1,715.8 224.4,715.8 225.8,715.8 227.1,715.8 228.4,715.8 229.8,715.8 231.1,715.8 232.5,715.8 233.8,715.8 235.1,715.8 236.5,715.8 237.8,715.8 239.1,715.8 240.5,715.8 241.8,715.8 243.1,715.8 244.5,715.8 245.8,715.8 247.1,715.8 248.5,715.8 249.8,715.8 251.2,715.8 252.5,715.8 253.8,715.7 255.2,715.7 256.5,715.7 257.8,715.6 259.2,715.6 260.2,715.5 261.2,715.4 262.2,715.4 263.2,715.3 264.2,715.2 265.2,715.1 266.2,714.9 267.2,714.8 268.2,714.6 269.2,714.3 270.2,714.1 271.2,713.8 272.2,713.5 273.2,713.2 274.2,712.7 275.2,712.2 276.2,711.7 276.9,711.3 277.5,710.9 278.2,710.5 278.9,710.1 279.5,709.7 280.2,709.3 280.9,708.8 281.5,708.4 282.2,708 282.9,707.7 283.9,707.1 284.9,706.6 285.9,706.1 286.9,705.7 287.9,705.2 288.9,704.8 289.9,704.4 290.9,704.1 291.9,703.8 292.9,703.5 293.9,703.3 294.9,703.2 295.9,703.2 296.9,703.2 297.9,703.4 298.9,703.7 299.9,704.1 300.9,704.7 301.6,705 302.2,705.5 302.9,705.9 303.6,706.4 304.2,706.9 304.9,707.4 305.6,708 306.2,708.6 306.9,709.2 307.6,709.9 308.2,710.7 308.9,711.4 309.6,712.3 310.2,713.1 310.9,713.9 311.6,714.8 312.2,715.6 312.9,716.4 313.6,717.2 314.2,718 314.9,718.7 315.6,719.4 316.2,720.1 316.9,720.8 317.6,721.5 318.2,722.1 318.9,722.8 319.6,723.3 320.3,723.9 320.9,724.3 321.6,724.7 322.6,725.1 323.6,725.4 323.9,725.4 324.9,725.3 325.9,724.9 326.9,724.4 327.6,723.9 328.3,723.3 328.9,722.7 329.6,722 330.3,721.3 330.9,720.5 331.6,719.7 332.3,718.6 332.9,717.5 333.6,716.4 334.3,715.2 334.9,714 335.6,712.9 336.3,711.8 336.9,710.8 337.6,710 338.3,709.2 338.9,708.5 339.6,707.8 340.3,707.2 341,706.7 342,706.3 343,706.1 344,706.3 344.6,706.7 345.3,707.3 346,708 346.6,708.9 347.3,710 348,711.1 348.6,712.6 349,713.4 349.3,714.4 349.6,715.4 350,716.4 350.3,717.6 350.6,718.7 351,719.9 351.3,721.1 351.6,722.3 352,723.5 352.3,724.6 352.6,725.7 353,726.7 353.3,727.7 353.6,728.6 354,729.6 354.3,730.5 354.6,731.3 355,732.2 355.3,733.1 355.6,733.9 356,734.7 356.3,735.4 357,736.8 357.6,738 358.3,738.9 359,739.6 359.6,740 360,740.1 361,739.8 361.6,739.3 362.3,738.6 363,737.7 363.7,736.8 364.3,735.9 365,735.1 365.7,734.2 366.3,733.3 367,732.4 367.7,731.6 368.3,730.7 369,729.8 369.7,729 370.3,728.2 371,727.3 371.7,726.5 372.3,725.7 373,724.8 373.7,724 374.3,723.2 375,722.4 375.7,721.7 376.3,720.9 377,720.2 377.7,719.5 378.3,718.8 379,718.3 380,717.9 380.3,717.9 381.3,718.5 382,719.6 382.7,721 383,721.9 383.3,722.8 383.7,724 384,725.4 384.3,727 384.7,728.7 385,730.4 385.3,732.1 385.7,733.8 386,735.3 386.4,736.8 386.7,738.2 387,739.6 387.4,740.8 387.7,741.8 388.4,742.7 389,742.1 389.4,741.3 389.7,740.2 390,738.9 390.4,737.3 390.7,735.6 391,733.8 391.4,731.8 391.7,729.5 392,726.8 392.4,724 392.7,721.1 393,718.3 393.4,715.7 393.7,713.3 394,711.4 394.4,710 394.7,708.7 395,707.6 395.4,706.7 396,705.6 396.4,705.5 397,706.3 397.4,707.4 397.7,708.8 398,710.6 398.4,712.6 398.7,714.8 399,717.2 399.4,719.7 399.7,722.7 400,726 400.4,729.4 400.7,732.6 401,735.4 401.4,737.6 401.7,739.5 402,741.2 402.4,742.5 402.7,743.4 403,743.9 403.7,743.1 404,741.4 404.4,738.8 404.7,735.7 405,732.3 405.4,728.8 405.7,725.5 406,722.2 406.4,718.7 406.7,715.4 407,712.2 407.4,709.4 407.7,707.3 408.1,705.8 408.4,705.4 409.1,706.8 409.4,708.3 409.7,710.2 410.1,712.4 410.4,714.7 410.7,717 411.1,719.5 411.4,722 411.7,724.7 412.1,727.2 412.4,729.7 412.7,731.8 413.1,733.6 413.4,735.3 413.7,736.6 414.1,737.4 414.4,737.4 414.7,736.4 415.1,734.5 415.4,732 415.7,729.2 416.1,726.3 416.4,723.5 416.7,721 417.1,718.5 417.4,716.1 417.7,713.9 418.1,712 418.4,710.7 418.7,709.9 419.1,709.7 419.7,711.8 420.1,713.7 420.4,715.8 420.7,718 421.1,720.2 421.4,722.5 421.7,724.9 422.1,727.1 422.4,728.9 422.7,730 423.1,730.4 423.7,728.9 424.1,727.4 424.4,725.6 424.7,723.7 425.1,721.9 425.4,720.3 425.7,718.7 426.1,717.3 426.4,716 426.7,714.9 427.1,714.2 427.4,713.8 428.1,714.8 428.4,716.4 428.7,718.4 429.1,720.5 429.4,722.3 429.7,723.3 430.1,723.5 430.8,722.8 431.1,722 431.4,721.2 431.8,720.4 432.1,719.6 432.4,718.9 433.1,717.6 433.8,716.9 434.1,716.9 435.1,717.5 435.8,718.2 436.4,719 437.1,719.7 438.1,720.1 438.8,719.7 439.4,718.7 440.1,717.7 440.8,717.2 441.8,717.8 442.4,718.4 443.4,718.6 444.4,718.4 445.4,718 446.4,717.6 447.4,717.3 448.4,717.1 449.4,717 450.4,716.9 451.4,716.8 452.4,716.7 453.5,716.6 454.5,716.4 455.5,716.3 456.5,716.2 457.5,716 458.5,715.9 459.5,715.8 460.5,715.7 461.5,715.6 462.5,715.5 463.5,715.4 463.8,715.4"/>
</g>
<g clip-path="url(#cBR)" fill="none" stroke-linejoin="round">
<path d="M442.8,411.9 444.7,411.9 446.6,411.9 448.5,411.9 450.4,411.9 452.3,411.9 454.2,411.9 456.2,411.9 458.1,412 460,412 461.9,412 463.8,412 465.7,412 467.6,412.1 469.5,412.1 471.4,412.1 473.3,412.1 475.2,412.1 477.1,412.1 479,412.1 480.9,412.1 482.8,412.1 484.7,412.1 486.6,412.1 488.5,412.2 490.4,412.2 492.3,412.2 494.2,412.2 496.1,412.2 498,412.2 499.9,412.2 501.8,412.3 503.7,412.3 505.6,412.3 507.5,412.3 509.4,412.3 511.3,412.4 513.2,412.4 515.1,412.4 517,412.5 518.9,412.5 520.8,412.5 522.7,412.6 524.6,412.6 526.5,412.7 528.4,412.7 530.3,412.8 532.2,412.8 534.1,412.9 536,412.9 537.9,413 539.8,413.1 541.7,413.2 543.6,413.2 545.5,413.3 547.4,413.4 549.3,413.5 551.2,413.7 553.1,413.8 555,413.9 556.9,414 558.8,414.2 560.7,414.3 562.7,414.5 564.6,414.6 566.5,414.8 568.4,415 570.3,415.2 572.2,415.4 574.1,415.6 576,415.9 577.9,416.1 579.8,416.4 581.7,416.6 583.6,416.9 585.5,417.2 587.4,417.5 589.3,417.8 591.2,418.2 593.1,418.5 595,418.9 596.9,419.2 598.8,419.6 600.7,420.1 602.6,420.5 604.5,421 606.4,421.5 608.3,422 610.2,422.6 612.1,423.1 614,423.8 615.9,424.4 617.8,425.2 619.7,425.9 621.6,426.7 623.5,427.5 625.4,428.4 627.3,429.4 629.2,430.4 631.1,431.5 633,432.6 634.9,433.8 636.8,435.1 638.7,436.5 640.6,438 642.5,439.6 644.4,441.2 646.3,443 648.2,444.9 650.1,446.9 652,449 653.9,451.3 655.8,453.6 657.7,456.1 659.6,458.8 661.5,461.6 663.4,464.5 665.3,467.4 667.2,470.5 669.1,473.6 671.1,476.6 673,479.6 674.9,482.4 676.8,485 678.7,487.4 680.6,489.4 682.5,491.1 684.4,492.4 686.3,493.5 688.2,494.4 690.1,495.3 692,496.2 693.9,497.3 695.8,498.7 697.7,500.5 699.6,502.7 701.5,505.6 703.4,509 705.3,512.9 707.2,517.2 709.1,521.5 711,525.6 712.9,529 714.8,531.2 716.7,532 718.6,532 720.5,531.7 722.4,531.7 724.3,532.9 726.2,535.6 728.1,539.7 730,545 731.9,550.5 733.8,554.8 735.7,556.7 737.6,556.1 739.5,554.9 741.4,555.2 743.3,558 745.2,563.3 747.1,569.5 749,573.6 750.9,573.8 752.8,572.4 754.7,573 756.6,577.3 758.5,583.8 760.4,587.5 762.3,586.9 764.2,586.5 766.1,590.5 768,596.2 769.9,598.1 771.8,597.9 773.7,600.7 775.6,606.7 777.5,608.2 779.5,608.3 781.4,612.2 783.3,615.8 785.2,616.9 787.1,620.4 789,623.2 790.9,625.4 792.8,628.7 794.7,630.5 796.6,634.1 798.5,635.9 800.4,639.1 802.3,641.8 804.2,644.4 806.1,647 808,650 809.9,652.6 811.8,655 813.7,657.6 815.6,660.3 817.5,663" stroke="#000" stroke-width="1"/>
<path d="M442.8,411.9 444.7,411.9 446.6,411.9 448.5,411.9 450.4,411.9 452.3,411.9 454.2,411.9 456.2,411.9 458.1,412 460,412 461.9,412 463.8,412 465.7,412 467.6,412 469.5,412 471.4,412 473.3,412 475.2,412 477.1,412 479,412 480.9,412 482.8,412 484.7,412.1 486.6,412.1 488.5,412.1 490.4,412.1 492.3,412.1 494.2,412.1 496.1,412.1 498,412.2 499.9,412.2 501.8,412.2 503.7,412.2 505.6,412.2 507.5,412.3 509.4,412.3 511.3,412.3 513.2,412.4 515.1,412.4 517,412.4 518.9,412.5 520.8,412.5 522.7,412.6 524.6,412.6 526.5,412.7 528.4,412.7 530.3,412.8 532.2,412.9 534.1,412.9 536,413 537.9,413.1 539.8,413.2 541.7,413.2 543.6,413.3 545.5,413.4 547.4,413.5 549.3,413.6 551.2,413.8 553.1,413.9 555,414 556.9,414.2 558.8,414.3 560.7,414.5 562.7,414.6 564.6,414.8 566.5,415 568.4,415.2 570.3,415.4 572.2,415.6 574.1,415.8 576,416 577.9,416.3 579.8,416.5 581.7,416.8 583.6,417.1 585.5,417.4 587.4,417.7 589.3,418 591.2,418.4 593.1,418.7 595,419.1 596.9,419.5 598.8,419.9 600.7,420.3 602.6,420.8 604.5,421.3 606.4,421.8 608.3,422.3 610.2,422.9 612.1,423.4 614,424.1 615.9,424.7 617.8,425.4 619.7,426.1 621.6,426.8 623.5,427.6 625.4,428.5 627.3,429.4 629.2,430.3 631.1,431.3 633,432.4 634.9,433.6 636.8,434.8 638.7,436.1 640.6,437.5 642.5,439 644.4,440.6 646.3,442.3 648.2,444.2 650.1,446.2 652,448.3 653.9,450.6 655.8,453 657.7,455.6 659.6,458.4 661.5,461.2 663.4,464.2 665.3,467.3 667.2,470.5 669.1,473.6 671.1,476.8 673,479.8 674.9,482.7 676.8,485.3 678.7,487.7 680.6,489.8 682.5,491.6 684.4,493.1 686.3,494.3 688.2,495.3 690.1,496.2 692,497.2 693.9,498.2 695.8,499.4 697.7,500.9 699.6,502.8 701.5,505.2 703.4,508 705.3,511.4 707.2,515.3 709.1,519.5 711,523.7 712.9,527.5 714.8,530.5 716.7,532.3 718.6,533 720.5,533 722.4,533 724.3,533.7 726.2,535.7 728.1,539.2 730,544.2 731.9,549.8 733.8,554.6 735.7,557 737.6,556.7 739.5,555.4 741.4,555.4 743.3,558 745.2,563.4 747.1,569.9 749,573.9 750.9,573.7 752.8,572 754.7,573 756.6,578.1 758.5,584.7 760.4,587.4 762.3,586 764.2,586.3 766.1,591.5 768,597.3 769.9,597.8 771.8,597.3 773.7,601.7 775.6,606.8 777.5,607 779.5,608.4 781.4,613.6 783.3,615.4 785.2,616.6 787.1,621.1 789,622.9 790.9,625.1 792.8,628.8 794.7,630.3 796.6,633.8 798.5,635.9 800.4,638.9 802.3,641.4 804.2,644.2 806.1,646.7 808,649.6 809.9,652.1 811.8,655 813.7,657.6 815.6,660.3 817.5,663" stroke="#0000ff" stroke-width="2.6" stroke-dasharray="11 7.5"/>
<path d="M458,412 460,412 462.1,412 464.1,412 466.2,412 468.2,412 470.3,412 472.3,412 474.4,412 476.4,412 478.5,412 480.5,412 482.6,412 484.6,412.1 486.7,412.1 488.7,412.1 490.8,412.1 492.8,412.1 494.9,412.1 496.9,412.2 499,412.2 501,412.2 503,412.2 505.1,412.2 507.1,412.3 509.2,412.3 511.2,412.3 513.3,412.4 515.3,412.4 517.4,412.4 519.4,412.5 521.5,412.5 523.5,412.6 525.6,412.6 527.6,412.7 529.7,412.8 531.7,412.8 533.8,412.9 535.8,413 537.9,413 539.9,413.1 542,413.2 544,413.3 546.1,413.4 548.1,413.5 550.2,413.6 552.2,413.7 554.3,413.9 556.3,414 558.4,414.2 560.4,414.3 562.5,414.5 564.5,414.6 566.6,414.8 568.6,415 570.7,415.2 572.7,415.4 574.8,415.6 576.8,415.9 578.9,416.1 580.9,416.4 583,416.6 585,416.9 587.1,417.2 589.1,417.5 591.2,417.9 593.2,418.2 594.8,418.5 596.3,418.7 597.8,419 599.4,419.3 600.9,419.6 602.4,419.9 604,420.3 605.5,420.6 607.1,421 608.6,421.3 610.1,421.7 611.7,422.1 613.2,422.4 614.7,422.8 616.3,423.3 617.8,423.7 619.4,424.1 620.9,424.6 622.4,425 624,425.5 625.5,426 627,426.5 628.6,427 630.1,427.5 631.6,428.1 633.2,428.6 634.7,429.2 636.3,429.8 637.8,430.4 639.3,431 640.9,431.6 642.4,432.3 643.9,432.9 645.5,433.6 647,434.3 648.6,435 650.1,435.7 651.6,436.5 653.2,437.2 654.7,438 656.2,438.8 657.8,439.6 659.3,440.4 660.9,441.2 662.4,442.1 663.9,443 665.5,443.9 667,444.8 668.5,445.7 670.1,446.6 671.6,447.6 673.1,448.5 674.7,449.5 676.2,450.5 677.8,451.6 679.3,452.6 680.8,453.7 682.4,454.7 683.9,455.8 685.4,456.9 687,458.1 688.5,459.2 690.1,460.4 691.1,461.2 692.1,462 693.1,462.8 694.2,463.6 695.2,464.4 696.2,465.2 697.2,466 698.3,466.9 699.3,467.7 700.3,468.6 701.3,469.4 702.4,470.3 703.4,471.2 704.4,472.1 705.4,473 706.5,473.9 707.5,474.8 708.5,475.7 709.5,476.6 710.6,477.5 711.6,478.5 712.6,479.4 713.6,480.4 714.6,481.3 715.7,482.3 716.7,483.2 717.7,484.2 718.7,485.2 719.8,486.2 720.8,487.2 721.8,488.2 722.8,489.2 723.9,490.2 724.9,491.3 725.9,492.3 726.9,493.3 728,494.4 729,495.4 730,496.5 731,497.6 732.1,498.6 733.1,499.7 734.1,500.8 735.1,501.9 736.2,503 737.2,504.1 738.2,505.2 739.2,506.3 740.3,507.4 741.3,508.6 742.3,509.7 743.3,510.8 744.4,512 745.4,513.1 746.4,514.3 747.4,515.5 748.5,516.6 749.5,517.8 750.5,519 751.5,520.2 752.6,521.3 753.6,522.5 754.6,523.7 755.6,524.9 756.7,526.1 757.7,527.4 758.7,528.6 759.7,529.8 760.8,531 761.8,532.3 762.8,533.5 763.8,534.7 764.9,536 765.9,537.2 766.9,538.5 767.9,539.7 769,541 770,542.3 771,543.5 772,544.8 773.1,546.1 774.1,547.4 775.1,548.7 776.1,549.9 777.2,551.2 778.2,552.5 779.2,553.8 780.2,555.1 781.3,556.4 782.3,557.8 783.3,559.1 784.3,560.4 785.4,561.7 786.4,563 787.4,564.4 788.4,565.7 789.5,567 790.5,568.4 791.5,569.7 792.5,571 793.6,572.4 794.6,573.7 795.6,575.1 796.6,576.4 797.6,577.8 798.7,579.2 799.7,580.5 800.7,581.9 801.7,583.2 802.8,584.6 803.8,586 804.8,587.4 805.8,588.7 806.9,590.1 807.9,591.5 808.9,592.9 809.9,594.3 811,595.7 812,597 813,598.4 814,599.8 815.1,601.2 816.1,602.6" stroke="#ff0000" stroke-width="1.15" stroke-dasharray="1.9 3.9"/>
</g>
<g clip-path="url(#rBR)" fill="none" stroke="#0000ff" stroke-width="1.15" stroke-linejoin="round">
<path d="M463.6,716 464.9,716 466.3,716 467.6,715.9 468.9,715.9 470.3,715.9 471.6,715.9 472.9,715.9 474.3,715.9 475.6,715.9 477,715.9 478,715.9 479.3,715.9 480.6,715.9 482,715.9 483.3,715.9 484.6,715.9 486,715.9 487.3,715.9 488.6,715.9 490,715.9 491.3,716 492.6,716 494,716 495.3,716 496.6,716 498,716.1 499.3,716.1 500.6,716.1 502,716.1 503.3,716.2 504.7,716.2 506,716.2 507.3,716.3 508.7,716.3 510,716.3 511.3,716.4 512.7,716.4 514,716.4 515.3,716.5 516.7,716.5 518,716.5 519.3,716.6 520.7,716.6 522,716.7 523.3,716.7 524.7,716.7 526,716.8 527.4,716.8 528.7,716.9 530,716.9 531.4,717 532.7,717 534,717 535.4,717.1 536.7,717.1 538,717.2 539.4,717.2 540.7,717.3 542,717.3 543.4,717.4 544.7,717.4 546,717.5 547.4,717.5 548.7,717.5 550,717.6 551.4,717.6 552.7,717.6 554.1,717.7 555.4,717.7 556.7,717.7 558.1,717.8 559.4,717.8 560.7,717.8 562.1,717.8 563.4,717.8 564.7,717.9 566.1,717.9 567.4,717.9 568.7,717.9 570.1,717.9 571.4,717.9 572.7,718 574.1,718 575.4,718 576.8,718 578.1,718 579.4,718.1 580.8,718.1 582.1,718.1 583.4,718.2 584.8,718.2 586.1,718.2 587.4,718.3 588.8,718.3 590.1,718.4 591.1,718.5 592.1,718.5 593.1,718.6 594.1,718.7 595.1,718.7 596.1,718.8 597.1,718.9 598.1,719 599.1,719 600.1,719.1 601.1,719.2 602.1,719.2 603.1,719.3 604.5,719.4 605.8,719.4 607.1,719.4 608.5,719.4 609.8,719.3 610.8,719.3 611.8,719.2 612.8,719.1 613.8,719 614.8,718.9 615.8,718.8 616.8,718.7 617.8,718.5 618.8,718.4 619.8,718.2 620.8,718.1 621.8,717.9 622.8,717.7 623.8,717.5 624.8,717.3 625.8,717 626.8,716.8 627.8,716.5 628.8,716.2 629.8,715.9 630.8,715.6 631.8,715.2 632.8,714.9 633.8,714.6 634.8,714.2 635.8,713.9 636.8,713.6 637.8,713.3 638.8,712.9 639.8,712.6 640.8,712.2 641.8,711.9 642.8,711.6 643.8,711.3 644.8,711 645.8,710.7 646.8,710.5 647.8,710.3 648.8,710.2 649.8,710.1 650.5,710.1 651.5,710.1 652.5,710.3 653.5,710.5 654.5,710.8 655.5,711.1 656.5,711.5 657.5,711.8 658.5,712.2 659.5,712.7 660.5,713.1 661.5,713.5 662.5,714 663.5,714.5 664.5,715 665.5,715.5 666.5,716 667.5,716.5 668.5,716.9 669.5,717.4 670.5,717.8 671.5,718.1 672.5,718.4 673.5,718.7 674.5,718.9 675.6,719.1 676.6,719.3 677.6,719.5 678.6,719.8 679.6,720 680.6,720.3 681.6,720.6 682.6,721 683.6,721.5 684.6,722.1 685.2,722.5 685.9,722.9 686.6,723.3 687.2,723.8 687.9,724.1 688.9,724.7 689.9,725.1 690.9,725.3 691.9,725.4 692.9,725.2 693.9,724.7 694.6,724.1 695.2,723.5 695.9,722.7 696.6,721.9 697.2,721.1 697.9,720.2 698.6,719.3 699.2,718.3 699.9,717.1 700.6,715.6 700.9,714.8 701.3,713.9 701.6,713 701.9,712 702.3,711 702.6,710 702.9,709 703.3,708.1 703.6,707.2 703.9,706.3 704.3,705.5 704.6,704.7 704.9,704 705.3,703.3 705.9,701.8 706.6,700.6 707.3,699.5 707.9,698.6 708.6,698.1 709.3,697.8 710.3,698.2 710.9,698.9 711.6,700 712.3,701.4 712.6,702.2 712.9,703.1 713.3,704.1 713.6,705.1 713.9,706.2 714.3,707.5 714.6,708.9 714.9,710.5 715.3,712.2 715.6,713.8 715.9,715.5 716.3,717.1 716.6,718.6 716.9,720 717.3,721.2 717.6,722.3 717.9,723.3 718.3,724.2 718.6,725.1 718.9,725.9 719.3,726.6 719.9,727.8 720.6,728.6 721.3,729 722.3,728.4 722.9,727.2 723.3,726.4 723.6,725.5 723.9,724.6 724.3,723.6 724.6,722.5 725,721.5 725.3,720.5 725.6,719.5 726,718.5 726.3,717.6 726.6,716.7 727,715.8 727.3,714.9 727.6,714 728,713.2 728.3,712.4 729,711.1 729.6,710.1 730.3,709.7 731.3,710.2 732,711.1 732.6,712.3 733.3,713.8 733.6,714.5 734,715.3 734.3,716 734.6,716.8 735.3,718.2 735.6,719 736,719.7 736.6,721.1 737.3,722 738,722.4 739,721.9 739.6,721.1 740.3,720.1 741,719.1 741.6,718 742.3,717.2 743,716.7 743.3,716.6 744.3,717 745,717.7 745.6,718.5 746.3,719.4 747,720.1 747.6,720.5 748,720.6 749,720 749.7,718.8 750.3,717.3 750.7,716.6 751,715.8 751.3,715.1 752,713.9 752.7,713.2 753,713.2 753.7,713.9 754.3,715.5 754.7,716.5 755,717.7 755.3,718.9 755.7,720.2 756,721.4 756.3,722.6 756.7,723.6 757,724.5 757.7,725.6 758,725.8 758.7,724.9 759,723.8 759.3,722.4 759.7,720.7 760,718.8 760.3,716.8 760.7,714.8 761,713 761.3,711.3 761.7,709.9 762,708.9 762.3,708.4 763,709 763.3,710.1 763.7,711.6 764,713.4 764.3,715.4 764.7,717.5 765,719.6 765.3,721.6 765.7,723.4 766,724.9 766.3,726 767,727 767.3,727.1 768,726.4 768.3,725.5 768.7,723.8 769,721.4 769.3,718.6 769.7,715.7 770,712.9 770.3,710.5 770.7,708.8 771,708 771.7,710 772,712.3 772.3,715.1 772.7,718.1 773,721 773.3,723.4 773.7,725.2 774,725.9 774.7,724.4 775,722.5 775.4,720.1 775.7,717.5 776,714.7 776.4,712 776.7,709.6 777,707.6 777.4,706.3 777.7,705.8 778.4,707.9 778.7,710.4 779,713.4 779.4,716.8 779.7,720.3 780,723.6 780.4,726.4 780.7,728.4 781,729.5 781.7,727.8 782,725.2 782.4,721.9 782.7,718.4 783,715 783.4,712.2 783.7,710.3 784,709.6 784.7,711.1 785,712.8 785.4,714.9 785.7,717.1 786,719.3 786.4,721.2 786.7,722.6 787,723.3 787.7,721.9 788,719.8 788.4,717.4 788.7,715 789,713.1 789.4,712.2 789.7,712 790.4,712.8 790.7,713.6 791,714.7 791.4,715.7 791.7,716.7 792,717.5 792.7,718.1 793.4,717.5 794,716 794.4,715.2 795,714 795.7,713.7 796.4,714.3 797,715.4 797.7,716.4 798.4,716.9 799.4,716.3 800.1,715.3 800.7,714.3 801.4,713.6 802.1,713.3 803.1,714 803.7,714.7 804.4,715.3 804.7,715.5 805.7,715.1 806.4,714.3 807.1,713.5 807.7,712.9 808.7,712.5 809.1,712.4 810.1,712.9 810.7,713.8 811.4,715.2"/>
</g>
<g stroke="#000" stroke-width="1.2" fill="none" shape-rendering="auto">
<rect x="105.6" y="20.2" width="705.85" height="347.6"/>
<line x1="105.6" y1="298.45" x2="811.45" y2="298.45"/>
<line x1="463.8" y1="20.2" x2="463.8" y2="367.8"/>
<rect x="105.6" y="393.4" width="705.85" height="357.70000000000005"/>
<line x1="105.6" y1="682.1" x2="811.45" y2="682.1"/>
<line x1="463.8" y1="393.4" x2="463.8" y2="751.1"/>
</g>
<g stroke="#000" stroke-width="0.9" fill="none">
<line x1="140.25" y1="20.20" x2="140.25" y2="27.20" stroke="#000" stroke-width="0.9"/>
<line x1="140.25" y1="291.45" x2="140.25" y2="305.45" stroke="#000" stroke-width="0.9"/>
<line x1="140.25" y1="367.80" x2="140.25" y2="360.80" stroke="#000" stroke-width="0.9"/>
<line x1="161.42" y1="20.20" x2="161.42" y2="27.20" stroke="#000" stroke-width="0.9"/>
<line x1="161.42" y1="291.45" x2="161.42" y2="305.45" stroke="#000" stroke-width="0.9"/>
<line x1="161.42" y1="367.80" x2="161.42" y2="360.80" stroke="#000" stroke-width="0.9"/>
<line x1="176.45" y1="20.20" x2="176.45" y2="27.20" stroke="#000" stroke-width="0.9"/>
<line x1="176.45" y1="291.45" x2="176.45" y2="305.45" stroke="#000" stroke-width="0.9"/>
<line x1="176.45" y1="367.80" x2="176.45" y2="360.80" stroke="#000" stroke-width="0.9"/>
<line x1="188.10" y1="20.20" x2="188.10" y2="27.20" stroke="#000" stroke-width="0.9"/>
<line x1="188.10" y1="291.45" x2="188.10" y2="305.45" stroke="#000" stroke-width="0.9"/>
<line x1="188.10" y1="367.80" x2="188.10" y2="360.80" stroke="#000" stroke-width="0.9"/>
<line x1="197.62" y1="20.20" x2="197.62" y2="27.20" stroke="#000" stroke-width="0.9"/>
<line x1="197.62" y1="291.45" x2="197.62" y2="305.45" stroke="#000" stroke-width="0.9"/>
<line x1="197.62" y1="367.80" x2="197.62" y2="360.80" stroke="#000" stroke-width="0.9"/>
<line x1="205.67" y1="20.20" x2="205.67" y2="27.20" stroke="#000" stroke-width="0.9"/>
<line x1="205.67" y1="291.45" x2="205.67" y2="305.45" stroke="#000" stroke-width="0.9"/>
<line x1="205.67" y1="367.80" x2="205.67" y2="360.80" stroke="#000" stroke-width="0.9"/>
<line x1="212.65" y1="20.20" x2="212.65" y2="27.20" stroke="#000" stroke-width="0.9"/>
<line x1="212.65" y1="291.45" x2="212.65" y2="305.45" stroke="#000" stroke-width="0.9"/>
<line x1="212.65" y1="367.80" x2="212.65" y2="360.80" stroke="#000" stroke-width="0.9"/>
<line x1="218.80" y1="20.20" x2="218.80" y2="27.20" stroke="#000" stroke-width="0.9"/>
<line x1="218.80" y1="291.45" x2="218.80" y2="305.45" stroke="#000" stroke-width="0.9"/>
<line x1="218.80" y1="367.80" x2="218.80" y2="360.80" stroke="#000" stroke-width="0.9"/>
<line x1="224.30" y1="20.20" x2="224.30" y2="34.40" stroke="#000" stroke-width="0.9"/>
<line x1="224.30" y1="284.25" x2="224.30" y2="312.65" stroke="#000" stroke-width="0.9"/>
<line x1="224.30" y1="367.80" x2="224.30" y2="353.60" stroke="#000" stroke-width="0.9"/>
<line x1="260.50" y1="20.20" x2="260.50" y2="27.20" stroke="#000" stroke-width="0.9"/>
<line x1="260.50" y1="291.45" x2="260.50" y2="305.45" stroke="#000" stroke-width="0.9"/>
<line x1="260.50" y1="367.80" x2="260.50" y2="360.80" stroke="#000" stroke-width="0.9"/>
<line x1="281.67" y1="20.20" x2="281.67" y2="27.20" stroke="#000" stroke-width="0.9"/>
<line x1="281.67" y1="291.45" x2="281.67" y2="305.45" stroke="#000" stroke-width="0.9"/>
<line x1="281.67" y1="367.80" x2="281.67" y2="360.80" stroke="#000" stroke-width="0.9"/>
<line x1="296.70" y1="20.20" x2="296.70" y2="27.20" stroke="#000" stroke-width="0.9"/>
<line x1="296.70" y1="291.45" x2="296.70" y2="305.45" stroke="#000" stroke-width="0.9"/>
<line x1="296.70" y1="367.80" x2="296.70" y2="360.80" stroke="#000" stroke-width="0.9"/>
<line x1="308.35" y1="20.20" x2="308.35" y2="27.20" stroke="#000" stroke-width="0.9"/>
<line x1="308.35" y1="291.45" x2="308.35" y2="305.45" stroke="#000" stroke-width="0.9"/>
<line x1="308.35" y1="367.80" x2="308.35" y2="360.80" stroke="#000" stroke-width="0.9"/>
<line x1="317.87" y1="20.20" x2="317.87" y2="27.20" stroke="#000" stroke-width="0.9"/>
<line x1="317.87" y1="291.45" x2="317.87" y2="305.45" stroke="#000" stroke-width="0.9"/>
<line x1="317.87" y1="367.80" x2="317.87" y2="360.80" stroke="#000" stroke-width="0.9"/>
<line x1="325.92" y1="20.20" x2="325.92" y2="27.20" stroke="#000" stroke-width="0.9"/>
<line x1="325.92" y1="291.45" x2="325.92" y2="305.45" stroke="#000" stroke-width="0.9"/>
<line x1="325.92" y1="367.80" x2="325.92" y2="360.80" stroke="#000" stroke-width="0.9"/>
<line x1="332.90" y1="20.20" x2="332.90" y2="27.20" stroke="#000" stroke-width="0.9"/>
<line x1="332.90" y1="291.45" x2="332.90" y2="305.45" stroke="#000" stroke-width="0.9"/>
<line x1="332.90" y1="367.80" x2="332.90" y2="360.80" stroke="#000" stroke-width="0.9"/>
<line x1="339.05" y1="20.20" x2="339.05" y2="27.20" stroke="#000" stroke-width="0.9"/>
<line x1="339.05" y1="291.45" x2="339.05" y2="305.45" stroke="#000" stroke-width="0.9"/>
<line x1="339.05" y1="367.80" x2="339.05" y2="360.80" stroke="#000" stroke-width="0.9"/>
<line x1="344.55" y1="20.20" x2="344.55" y2="34.40" stroke="#000" stroke-width="0.9"/>
<line x1="344.55" y1="284.25" x2="344.55" y2="312.65" stroke="#000" stroke-width="0.9"/>
<line x1="344.55" y1="367.80" x2="344.55" y2="353.60" stroke="#000" stroke-width="0.9"/>
<line x1="380.75" y1="20.20" x2="380.75" y2="27.20" stroke="#000" stroke-width="0.9"/>
<line x1="380.75" y1="291.45" x2="380.75" y2="305.45" stroke="#000" stroke-width="0.9"/>
<line x1="380.75" y1="367.80" x2="380.75" y2="360.80" stroke="#000" stroke-width="0.9"/>
<line x1="401.92" y1="20.20" x2="401.92" y2="27.20" stroke="#000" stroke-width="0.9"/>
<line x1="401.92" y1="291.45" x2="401.92" y2="305.45" stroke="#000" stroke-width="0.9"/>
<line x1="401.92" y1="367.80" x2="401.92" y2="360.80" stroke="#000" stroke-width="0.9"/>
<line x1="416.95" y1="20.20" x2="416.95" y2="27.20" stroke="#000" stroke-width="0.9"/>
<line x1="416.95" y1="291.45" x2="416.95" y2="305.45" stroke="#000" stroke-width="0.9"/>
<line x1="416.95" y1="367.80" x2="416.95" y2="360.80" stroke="#000" stroke-width="0.9"/>
<line x1="428.60" y1="20.20" x2="428.60" y2="27.20" stroke="#000" stroke-width="0.9"/>
<line x1="428.60" y1="291.45" x2="428.60" y2="305.45" stroke="#000" stroke-width="0.9"/>
<line x1="428.60" y1="367.80" x2="428.60" y2="360.80" stroke="#000" stroke-width="0.9"/>
<line x1="438.12" y1="20.20" x2="438.12" y2="27.20" stroke="#000" stroke-width="0.9"/>
<line x1="438.12" y1="291.45" x2="438.12" y2="305.45" stroke="#000" stroke-width="0.9"/>
<line x1="438.12" y1="367.80" x2="438.12" y2="360.80" stroke="#000" stroke-width="0.9"/>
<line x1="446.17" y1="20.20" x2="446.17" y2="27.20" stroke="#000" stroke-width="0.9"/>
<line x1="446.17" y1="291.45" x2="446.17" y2="305.45" stroke="#000" stroke-width="0.9"/>
<line x1="446.17" y1="367.80" x2="446.17" y2="360.80" stroke="#000" stroke-width="0.9"/>
<line x1="453.15" y1="20.20" x2="453.15" y2="27.20" stroke="#000" stroke-width="0.9"/>
<line x1="453.15" y1="291.45" x2="453.15" y2="305.45" stroke="#000" stroke-width="0.9"/>
<line x1="453.15" y1="367.80" x2="453.15" y2="360.80" stroke="#000" stroke-width="0.9"/>
<line x1="459.30" y1="20.20" x2="459.30" y2="27.20" stroke="#000" stroke-width="0.9"/>
<line x1="459.30" y1="291.45" x2="459.30" y2="305.45" stroke="#000" stroke-width="0.9"/>
<line x1="459.30" y1="367.80" x2="459.30" y2="360.80" stroke="#000" stroke-width="0.9"/>
<line x1="494.62" y1="20.20" x2="494.62" y2="27.20" stroke="#000" stroke-width="0.9"/>
<line x1="494.62" y1="291.45" x2="494.62" y2="305.45" stroke="#000" stroke-width="0.9"/>
<line x1="494.62" y1="367.80" x2="494.62" y2="360.80" stroke="#000" stroke-width="0.9"/>
<line x1="513.23" y1="20.20" x2="513.23" y2="27.20" stroke="#000" stroke-width="0.9"/>
<line x1="513.23" y1="291.45" x2="513.23" y2="305.45" stroke="#000" stroke-width="0.9"/>
<line x1="513.23" y1="367.80" x2="513.23" y2="360.80" stroke="#000" stroke-width="0.9"/>
<line x1="526.44" y1="20.20" x2="526.44" y2="27.20" stroke="#000" stroke-width="0.9"/>
<line x1="526.44" y1="291.45" x2="526.44" y2="305.45" stroke="#000" stroke-width="0.9"/>
<line x1="526.44" y1="367.80" x2="526.44" y2="360.80" stroke="#000" stroke-width="0.9"/>
<line x1="536.68" y1="20.20" x2="536.68" y2="27.20" stroke="#000" stroke-width="0.9"/>
<line x1="536.68" y1="291.45" x2="536.68" y2="305.45" stroke="#000" stroke-width="0.9"/>
<line x1="536.68" y1="367.80" x2="536.68" y2="360.80" stroke="#000" stroke-width="0.9"/>
<line x1="545.05" y1="20.20" x2="545.05" y2="27.20" stroke="#000" stroke-width="0.9"/>
<line x1="545.05" y1="291.45" x2="545.05" y2="305.45" stroke="#000" stroke-width="0.9"/>
<line x1="545.05" y1="367.80" x2="545.05" y2="360.80" stroke="#000" stroke-width="0.9"/>
<line x1="552.13" y1="20.20" x2="552.13" y2="27.20" stroke="#000" stroke-width="0.9"/>
<line x1="552.13" y1="291.45" x2="552.13" y2="305.45" stroke="#000" stroke-width="0.9"/>
<line x1="552.13" y1="367.80" x2="552.13" y2="360.80" stroke="#000" stroke-width="0.9"/>
<line x1="558.26" y1="20.20" x2="558.26" y2="27.20" stroke="#000" stroke-width="0.9"/>
<line x1="558.26" y1="291.45" x2="558.26" y2="305.45" stroke="#000" stroke-width="0.9"/>
<line x1="558.26" y1="367.80" x2="558.26" y2="360.80" stroke="#000" stroke-width="0.9"/>
<line x1="563.66" y1="20.20" x2="563.66" y2="27.20" stroke="#000" stroke-width="0.9"/>
<line x1="563.66" y1="291.45" x2="563.66" y2="305.45" stroke="#000" stroke-width="0.9"/>
<line x1="563.66" y1="367.80" x2="563.66" y2="360.80" stroke="#000" stroke-width="0.9"/>
<line x1="568.50" y1="20.20" x2="568.50" y2="34.40" stroke="#000" stroke-width="0.9"/>
<line x1="568.50" y1="284.25" x2="568.50" y2="312.65" stroke="#000" stroke-width="0.9"/>
<line x1="568.50" y1="367.80" x2="568.50" y2="353.60" stroke="#000" stroke-width="0.9"/>
<line x1="600.32" y1="20.20" x2="600.32" y2="27.20" stroke="#000" stroke-width="0.9"/>
<line x1="600.32" y1="291.45" x2="600.32" y2="305.45" stroke="#000" stroke-width="0.9"/>
<line x1="600.32" y1="367.80" x2="600.32" y2="360.80" stroke="#000" stroke-width="0.9"/>
<line x1="618.93" y1="20.20" x2="618.93" y2="27.20" stroke="#000" stroke-width="0.9"/>
<line x1="618.93" y1="291.45" x2="618.93" y2="305.45" stroke="#000" stroke-width="0.9"/>
<line x1="618.93" y1="367.80" x2="618.93" y2="360.80" stroke="#000" stroke-width="0.9"/>
<line x1="632.14" y1="20.20" x2="632.14" y2="27.20" stroke="#000" stroke-width="0.9"/>
<line x1="632.14" y1="291.45" x2="632.14" y2="305.45" stroke="#000" stroke-width="0.9"/>
<line x1="632.14" y1="367.80" x2="632.14" y2="360.80" stroke="#000" stroke-width="0.9"/>
<line x1="642.38" y1="20.20" x2="642.38" y2="27.20" stroke="#000" stroke-width="0.9"/>
<line x1="642.38" y1="291.45" x2="642.38" y2="305.45" stroke="#000" stroke-width="0.9"/>
<line x1="642.38" y1="367.80" x2="642.38" y2="360.80" stroke="#000" stroke-width="0.9"/>
<line x1="650.75" y1="20.20" x2="650.75" y2="27.20" stroke="#000" stroke-width="0.9"/>
<line x1="650.75" y1="291.45" x2="650.75" y2="305.45" stroke="#000" stroke-width="0.9"/>
<line x1="650.75" y1="367.80" x2="650.75" y2="360.80" stroke="#000" stroke-width="0.9"/>
<line x1="657.83" y1="20.20" x2="657.83" y2="27.20" stroke="#000" stroke-width="0.9"/>
<line x1="657.83" y1="291.45" x2="657.83" y2="305.45" stroke="#000" stroke-width="0.9"/>
<line x1="657.83" y1="367.80" x2="657.83" y2="360.80" stroke="#000" stroke-width="0.9"/>
<line x1="663.96" y1="20.20" x2="663.96" y2="27.20" stroke="#000" stroke-width="0.9"/>
<line x1="663.96" y1="291.45" x2="663.96" y2="305.45" stroke="#000" stroke-width="0.9"/>
<line x1="663.96" y1="367.80" x2="663.96" y2="360.80" stroke="#000" stroke-width="0.9"/>
<line x1="669.36" y1="20.20" x2="669.36" y2="27.20" stroke="#000" stroke-width="0.9"/>
<line x1="669.36" y1="291.45" x2="669.36" y2="305.45" stroke="#000" stroke-width="0.9"/>
<line x1="669.36" y1="367.80" x2="669.36" y2="360.80" stroke="#000" stroke-width="0.9"/>
<line x1="674.20" y1="20.20" x2="674.20" y2="34.40" stroke="#000" stroke-width="0.9"/>
<line x1="674.20" y1="284.25" x2="674.20" y2="312.65" stroke="#000" stroke-width="0.9"/>
<line x1="674.20" y1="367.80" x2="674.20" y2="353.60" stroke="#000" stroke-width="0.9"/>
<line x1="706.02" y1="20.20" x2="706.02" y2="27.20" stroke="#000" stroke-width="0.9"/>
<line x1="706.02" y1="291.45" x2="706.02" y2="305.45" stroke="#000" stroke-width="0.9"/>
<line x1="706.02" y1="367.80" x2="706.02" y2="360.80" stroke="#000" stroke-width="0.9"/>
<line x1="724.63" y1="20.20" x2="724.63" y2="27.20" stroke="#000" stroke-width="0.9"/>
<line x1="724.63" y1="291.45" x2="724.63" y2="305.45" stroke="#000" stroke-width="0.9"/>
<line x1="724.63" y1="367.80" x2="724.63" y2="360.80" stroke="#000" stroke-width="0.9"/>
<line x1="737.84" y1="20.20" x2="737.84" y2="27.20" stroke="#000" stroke-width="0.9"/>
<line x1="737.84" y1="291.45" x2="737.84" y2="305.45" stroke="#000" stroke-width="0.9"/>
<line x1="737.84" y1="367.80" x2="737.84" y2="360.80" stroke="#000" stroke-width="0.9"/>
<line x1="748.08" y1="20.20" x2="748.08" y2="27.20" stroke="#000" stroke-width="0.9"/>
<line x1="748.08" y1="291.45" x2="748.08" y2="305.45" stroke="#000" stroke-width="0.9"/>
<line x1="748.08" y1="367.80" x2="748.08" y2="360.80" stroke="#000" stroke-width="0.9"/>
<line x1="756.45" y1="20.20" x2="756.45" y2="27.20" stroke="#000" stroke-width="0.9"/>
<line x1="756.45" y1="291.45" x2="756.45" y2="305.45" stroke="#000" stroke-width="0.9"/>
<line x1="756.45" y1="367.80" x2="756.45" y2="360.80" stroke="#000" stroke-width="0.9"/>
<line x1="763.53" y1="20.20" x2="763.53" y2="27.20" stroke="#000" stroke-width="0.9"/>
<line x1="763.53" y1="291.45" x2="763.53" y2="305.45" stroke="#000" stroke-width="0.9"/>
<line x1="763.53" y1="367.80" x2="763.53" y2="360.80" stroke="#000" stroke-width="0.9"/>
<line x1="769.66" y1="20.20" x2="769.66" y2="27.20" stroke="#000" stroke-width="0.9"/>
<line x1="769.66" y1="291.45" x2="769.66" y2="305.45" stroke="#000" stroke-width="0.9"/>
<line x1="769.66" y1="367.80" x2="769.66" y2="360.80" stroke="#000" stroke-width="0.9"/>
<line x1="775.06" y1="20.20" x2="775.06" y2="27.20" stroke="#000" stroke-width="0.9"/>
<line x1="775.06" y1="291.45" x2="775.06" y2="305.45" stroke="#000" stroke-width="0.9"/>
<line x1="775.06" y1="367.80" x2="775.06" y2="360.80" stroke="#000" stroke-width="0.9"/>
<line x1="779.90" y1="20.20" x2="779.90" y2="34.40" stroke="#000" stroke-width="0.9"/>
<line x1="779.90" y1="284.25" x2="779.90" y2="312.65" stroke="#000" stroke-width="0.9"/>
<line x1="779.90" y1="367.80" x2="779.90" y2="353.60" stroke="#000" stroke-width="0.9"/>
<line x1="140.25" y1="393.40" x2="140.25" y2="400.40" stroke="#000" stroke-width="0.9"/>
<line x1="140.25" y1="675.10" x2="140.25" y2="689.10" stroke="#000" stroke-width="0.9"/>
<line x1="140.25" y1="751.10" x2="140.25" y2="744.10" stroke="#000" stroke-width="0.9"/>
<line x1="161.42" y1="393.40" x2="161.42" y2="400.40" stroke="#000" stroke-width="0.9"/>
<line x1="161.42" y1="675.10" x2="161.42" y2="689.10" stroke="#000" stroke-width="0.9"/>
<line x1="161.42" y1="751.10" x2="161.42" y2="744.10" stroke="#000" stroke-width="0.9"/>
<line x1="176.45" y1="393.40" x2="176.45" y2="400.40" stroke="#000" stroke-width="0.9"/>
<line x1="176.45" y1="675.10" x2="176.45" y2="689.10" stroke="#000" stroke-width="0.9"/>
<line x1="176.45" y1="751.10" x2="176.45" y2="744.10" stroke="#000" stroke-width="0.9"/>
<line x1="188.10" y1="393.40" x2="188.10" y2="400.40" stroke="#000" stroke-width="0.9"/>
<line x1="188.10" y1="675.10" x2="188.10" y2="689.10" stroke="#000" stroke-width="0.9"/>
<line x1="188.10" y1="751.10" x2="188.10" y2="744.10" stroke="#000" stroke-width="0.9"/>
<line x1="197.62" y1="393.40" x2="197.62" y2="400.40" stroke="#000" stroke-width="0.9"/>
<line x1="197.62" y1="675.10" x2="197.62" y2="689.10" stroke="#000" stroke-width="0.9"/>
<line x1="197.62" y1="751.10" x2="197.62" y2="744.10" stroke="#000" stroke-width="0.9"/>
<line x1="205.67" y1="393.40" x2="205.67" y2="400.40" stroke="#000" stroke-width="0.9"/>
<line x1="205.67" y1="675.10" x2="205.67" y2="689.10" stroke="#000" stroke-width="0.9"/>
<line x1="205.67" y1="751.10" x2="205.67" y2="744.10" stroke="#000" stroke-width="0.9"/>
<line x1="212.65" y1="393.40" x2="212.65" y2="400.40" stroke="#000" stroke-width="0.9"/>
<line x1="212.65" y1="675.10" x2="212.65" y2="689.10" stroke="#000" stroke-width="0.9"/>
<line x1="212.65" y1="751.10" x2="212.65" y2="744.10" stroke="#000" stroke-width="0.9"/>
<line x1="218.80" y1="393.40" x2="218.80" y2="400.40" stroke="#000" stroke-width="0.9"/>
<line x1="218.80" y1="675.10" x2="218.80" y2="689.10" stroke="#000" stroke-width="0.9"/>
<line x1="218.80" y1="751.10" x2="218.80" y2="744.10" stroke="#000" stroke-width="0.9"/>
<line x1="224.30" y1="393.40" x2="224.30" y2="407.60" stroke="#000" stroke-width="0.9"/>
<line x1="224.30" y1="667.90" x2="224.30" y2="696.30" stroke="#000" stroke-width="0.9"/>
<line x1="224.30" y1="751.10" x2="224.30" y2="736.90" stroke="#000" stroke-width="0.9"/>
<line x1="260.50" y1="393.40" x2="260.50" y2="400.40" stroke="#000" stroke-width="0.9"/>
<line x1="260.50" y1="675.10" x2="260.50" y2="689.10" stroke="#000" stroke-width="0.9"/>
<line x1="260.50" y1="751.10" x2="260.50" y2="744.10" stroke="#000" stroke-width="0.9"/>
<line x1="281.67" y1="393.40" x2="281.67" y2="400.40" stroke="#000" stroke-width="0.9"/>
<line x1="281.67" y1="675.10" x2="281.67" y2="689.10" stroke="#000" stroke-width="0.9"/>
<line x1="281.67" y1="751.10" x2="281.67" y2="744.10" stroke="#000" stroke-width="0.9"/>
<line x1="296.70" y1="393.40" x2="296.70" y2="400.40" stroke="#000" stroke-width="0.9"/>
<line x1="296.70" y1="675.10" x2="296.70" y2="689.10" stroke="#000" stroke-width="0.9"/>
<line x1="296.70" y1="751.10" x2="296.70" y2="744.10" stroke="#000" stroke-width="0.9"/>
<line x1="308.35" y1="393.40" x2="308.35" y2="400.40" stroke="#000" stroke-width="0.9"/>
<line x1="308.35" y1="675.10" x2="308.35" y2="689.10" stroke="#000" stroke-width="0.9"/>
<line x1="308.35" y1="751.10" x2="308.35" y2="744.10" stroke="#000" stroke-width="0.9"/>
<line x1="317.87" y1="393.40" x2="317.87" y2="400.40" stroke="#000" stroke-width="0.9"/>
<line x1="317.87" y1="675.10" x2="317.87" y2="689.10" stroke="#000" stroke-width="0.9"/>
<line x1="317.87" y1="751.10" x2="317.87" y2="744.10" stroke="#000" stroke-width="0.9"/>
<line x1="325.92" y1="393.40" x2="325.92" y2="400.40" stroke="#000" stroke-width="0.9"/>
<line x1="325.92" y1="675.10" x2="325.92" y2="689.10" stroke="#000" stroke-width="0.9"/>
<line x1="325.92" y1="751.10" x2="325.92" y2="744.10" stroke="#000" stroke-width="0.9"/>
<line x1="332.90" y1="393.40" x2="332.90" y2="400.40" stroke="#000" stroke-width="0.9"/>
<line x1="332.90" y1="675.10" x2="332.90" y2="689.10" stroke="#000" stroke-width="0.9"/>
<line x1="332.90" y1="751.10" x2="332.90" y2="744.10" stroke="#000" stroke-width="0.9"/>
<line x1="339.05" y1="393.40" x2="339.05" y2="400.40" stroke="#000" stroke-width="0.9"/>
<line x1="339.05" y1="675.10" x2="339.05" y2="689.10" stroke="#000" stroke-width="0.9"/>
<line x1="339.05" y1="751.10" x2="339.05" y2="744.10" stroke="#000" stroke-width="0.9"/>
<line x1="344.55" y1="393.40" x2="344.55" y2="407.60" stroke="#000" stroke-width="0.9"/>
<line x1="344.55" y1="667.90" x2="344.55" y2="696.30" stroke="#000" stroke-width="0.9"/>
<line x1="344.55" y1="751.10" x2="344.55" y2="736.90" stroke="#000" stroke-width="0.9"/>
<line x1="380.75" y1="393.40" x2="380.75" y2="400.40" stroke="#000" stroke-width="0.9"/>
<line x1="380.75" y1="675.10" x2="380.75" y2="689.10" stroke="#000" stroke-width="0.9"/>
<line x1="380.75" y1="751.10" x2="380.75" y2="744.10" stroke="#000" stroke-width="0.9"/>
<line x1="401.92" y1="393.40" x2="401.92" y2="400.40" stroke="#000" stroke-width="0.9"/>
<line x1="401.92" y1="675.10" x2="401.92" y2="689.10" stroke="#000" stroke-width="0.9"/>
<line x1="401.92" y1="751.10" x2="401.92" y2="744.10" stroke="#000" stroke-width="0.9"/>
<line x1="416.95" y1="393.40" x2="416.95" y2="400.40" stroke="#000" stroke-width="0.9"/>
<line x1="416.95" y1="675.10" x2="416.95" y2="689.10" stroke="#000" stroke-width="0.9"/>
<line x1="416.95" y1="751.10" x2="416.95" y2="744.10" stroke="#000" stroke-width="0.9"/>
<line x1="428.60" y1="393.40" x2="428.60" y2="400.40" stroke="#000" stroke-width="0.9"/>
<line x1="428.60" y1="675.10" x2="428.60" y2="689.10" stroke="#000" stroke-width="0.9"/>
<line x1="428.60" y1="751.10" x2="428.60" y2="744.10" stroke="#000" stroke-width="0.9"/>
<line x1="438.12" y1="393.40" x2="438.12" y2="400.40" stroke="#000" stroke-width="0.9"/>
<line x1="438.12" y1="675.10" x2="438.12" y2="689.10" stroke="#000" stroke-width="0.9"/>
<line x1="438.12" y1="751.10" x2="438.12" y2="744.10" stroke="#000" stroke-width="0.9"/>
<line x1="446.17" y1="393.40" x2="446.17" y2="400.40" stroke="#000" stroke-width="0.9"/>
<line x1="446.17" y1="675.10" x2="446.17" y2="689.10" stroke="#000" stroke-width="0.9"/>
<line x1="446.17" y1="751.10" x2="446.17" y2="744.10" stroke="#000" stroke-width="0.9"/>
<line x1="453.15" y1="393.40" x2="453.15" y2="400.40" stroke="#000" stroke-width="0.9"/>
<line x1="453.15" y1="675.10" x2="453.15" y2="689.10" stroke="#000" stroke-width="0.9"/>
<line x1="453.15" y1="751.10" x2="453.15" y2="744.10" stroke="#000" stroke-width="0.9"/>
<line x1="459.30" y1="393.40" x2="459.30" y2="400.40" stroke="#000" stroke-width="0.9"/>
<line x1="459.30" y1="675.10" x2="459.30" y2="689.10" stroke="#000" stroke-width="0.9"/>
<line x1="459.30" y1="751.10" x2="459.30" y2="744.10" stroke="#000" stroke-width="0.9"/>
<line x1="494.62" y1="393.40" x2="494.62" y2="400.40" stroke="#000" stroke-width="0.9"/>
<line x1="494.62" y1="675.10" x2="494.62" y2="689.10" stroke="#000" stroke-width="0.9"/>
<line x1="494.62" y1="751.10" x2="494.62" y2="744.10" stroke="#000" stroke-width="0.9"/>
<line x1="513.23" y1="393.40" x2="513.23" y2="400.40" stroke="#000" stroke-width="0.9"/>
<line x1="513.23" y1="675.10" x2="513.23" y2="689.10" stroke="#000" stroke-width="0.9"/>
<line x1="513.23" y1="751.10" x2="513.23" y2="744.10" stroke="#000" stroke-width="0.9"/>
<line x1="526.44" y1="393.40" x2="526.44" y2="400.40" stroke="#000" stroke-width="0.9"/>
<line x1="526.44" y1="675.10" x2="526.44" y2="689.10" stroke="#000" stroke-width="0.9"/>
<line x1="526.44" y1="751.10" x2="526.44" y2="744.10" stroke="#000" stroke-width="0.9"/>
<line x1="536.68" y1="393.40" x2="536.68" y2="400.40" stroke="#000" stroke-width="0.9"/>
<line x1="536.68" y1="675.10" x2="536.68" y2="689.10" stroke="#000" stroke-width="0.9"/>
<line x1="536.68" y1="751.10" x2="536.68" y2="744.10" stroke="#000" stroke-width="0.9"/>
<line x1="545.05" y1="393.40" x2="545.05" y2="400.40" stroke="#000" stroke-width="0.9"/>
<line x1="545.05" y1="675.10" x2="545.05" y2="689.10" stroke="#000" stroke-width="0.9"/>
<line x1="545.05" y1="751.10" x2="545.05" y2="744.10" stroke="#000" stroke-width="0.9"/>
<line x1="552.13" y1="393.40" x2="552.13" y2="400.40" stroke="#000" stroke-width="0.9"/>
<line x1="552.13" y1="675.10" x2="552.13" y2="689.10" stroke="#000" stroke-width="0.9"/>
<line x1="552.13" y1="751.10" x2="552.13" y2="744.10" stroke="#000" stroke-width="0.9"/>
<line x1="558.26" y1="393.40" x2="558.26" y2="400.40" stroke="#000" stroke-width="0.9"/>
<line x1="558.26" y1="675.10" x2="558.26" y2="689.10" stroke="#000" stroke-width="0.9"/>
<line x1="558.26" y1="751.10" x2="558.26" y2="744.10" stroke="#000" stroke-width="0.9"/>
<line x1="563.66" y1="393.40" x2="563.66" y2="400.40" stroke="#000" stroke-width="0.9"/>
<line x1="563.66" y1="675.10" x2="563.66" y2="689.10" stroke="#000" stroke-width="0.9"/>
<line x1="563.66" y1="751.10" x2="563.66" y2="744.10" stroke="#000" stroke-width="0.9"/>
<line x1="568.50" y1="393.40" x2="568.50" y2="407.60" stroke="#000" stroke-width="0.9"/>
<line x1="568.50" y1="667.90" x2="568.50" y2="696.30" stroke="#000" stroke-width="0.9"/>
<line x1="568.50" y1="751.10" x2="568.50" y2="736.90" stroke="#000" stroke-width="0.9"/>
<line x1="600.32" y1="393.40" x2="600.32" y2="400.40" stroke="#000" stroke-width="0.9"/>
<line x1="600.32" y1="675.10" x2="600.32" y2="689.10" stroke="#000" stroke-width="0.9"/>
<line x1="600.32" y1="751.10" x2="600.32" y2="744.10" stroke="#000" stroke-width="0.9"/>
<line x1="618.93" y1="393.40" x2="618.93" y2="400.40" stroke="#000" stroke-width="0.9"/>
<line x1="618.93" y1="675.10" x2="618.93" y2="689.10" stroke="#000" stroke-width="0.9"/>
<line x1="618.93" y1="751.10" x2="618.93" y2="744.10" stroke="#000" stroke-width="0.9"/>
<line x1="632.14" y1="393.40" x2="632.14" y2="400.40" stroke="#000" stroke-width="0.9"/>
<line x1="632.14" y1="675.10" x2="632.14" y2="689.10" stroke="#000" stroke-width="0.9"/>
<line x1="632.14" y1="751.10" x2="632.14" y2="744.10" stroke="#000" stroke-width="0.9"/>
<line x1="642.38" y1="393.40" x2="642.38" y2="400.40" stroke="#000" stroke-width="0.9"/>
<line x1="642.38" y1="675.10" x2="642.38" y2="689.10" stroke="#000" stroke-width="0.9"/>
<line x1="642.38" y1="751.10" x2="642.38" y2="744.10" stroke="#000" stroke-width="0.9"/>
<line x1="650.75" y1="393.40" x2="650.75" y2="400.40" stroke="#000" stroke-width="0.9"/>
<line x1="650.75" y1="675.10" x2="650.75" y2="689.10" stroke="#000" stroke-width="0.9"/>
<line x1="650.75" y1="751.10" x2="650.75" y2="744.10" stroke="#000" stroke-width="0.9"/>
<line x1="657.83" y1="393.40" x2="657.83" y2="400.40" stroke="#000" stroke-width="0.9"/>
<line x1="657.83" y1="675.10" x2="657.83" y2="689.10" stroke="#000" stroke-width="0.9"/>
<line x1="657.83" y1="751.10" x2="657.83" y2="744.10" stroke="#000" stroke-width="0.9"/>
<line x1="663.96" y1="393.40" x2="663.96" y2="400.40" stroke="#000" stroke-width="0.9"/>
<line x1="663.96" y1="675.10" x2="663.96" y2="689.10" stroke="#000" stroke-width="0.9"/>
<line x1="663.96" y1="751.10" x2="663.96" y2="744.10" stroke="#000" stroke-width="0.9"/>
<line x1="669.36" y1="393.40" x2="669.36" y2="400.40" stroke="#000" stroke-width="0.9"/>
<line x1="669.36" y1="675.10" x2="669.36" y2="689.10" stroke="#000" stroke-width="0.9"/>
<line x1="669.36" y1="751.10" x2="669.36" y2="744.10" stroke="#000" stroke-width="0.9"/>
<line x1="674.20" y1="393.40" x2="674.20" y2="407.60" stroke="#000" stroke-width="0.9"/>
<line x1="674.20" y1="667.90" x2="674.20" y2="696.30" stroke="#000" stroke-width="0.9"/>
<line x1="674.20" y1="751.10" x2="674.20" y2="736.90" stroke="#000" stroke-width="0.9"/>
<line x1="706.02" y1="393.40" x2="706.02" y2="400.40" stroke="#000" stroke-width="0.9"/>
<line x1="706.02" y1="675.10" x2="706.02" y2="689.10" stroke="#000" stroke-width="0.9"/>
<line x1="706.02" y1="751.10" x2="706.02" y2="744.10" stroke="#000" stroke-width="0.9"/>
<line x1="724.63" y1="393.40" x2="724.63" y2="400.40" stroke="#000" stroke-width="0.9"/>
<line x1="724.63" y1="675.10" x2="724.63" y2="689.10" stroke="#000" stroke-width="0.9"/>
<line x1="724.63" y1="751.10" x2="724.63" y2="744.10" stroke="#000" stroke-width="0.9"/>
<line x1="737.84" y1="393.40" x2="737.84" y2="400.40" stroke="#000" stroke-width="0.9"/>
<line x1="737.84" y1="675.10" x2="737.84" y2="689.10" stroke="#000" stroke-width="0.9"/>
<line x1="737.84" y1="751.10" x2="737.84" y2="744.10" stroke="#000" stroke-width="0.9"/>
<line x1="748.08" y1="393.40" x2="748.08" y2="400.40" stroke="#000" stroke-width="0.9"/>
<line x1="748.08" y1="675.10" x2="748.08" y2="689.10" stroke="#000" stroke-width="0.9"/>
<line x1="748.08" y1="751.10" x2="748.08" y2="744.10" stroke="#000" stroke-width="0.9"/>
<line x1="756.45" y1="393.40" x2="756.45" y2="400.40" stroke="#000" stroke-width="0.9"/>
<line x1="756.45" y1="675.10" x2="756.45" y2="689.10" stroke="#000" stroke-width="0.9"/>
<line x1="756.45" y1="751.10" x2="756.45" y2="744.10" stroke="#000" stroke-width="0.9"/>
<line x1="763.53" y1="393.40" x2="763.53" y2="400.40" stroke="#000" stroke-width="0.9"/>
<line x1="763.53" y1="675.10" x2="763.53" y2="689.10" stroke="#000" stroke-width="0.9"/>
<line x1="763.53" y1="751.10" x2="763.53" y2="744.10" stroke="#000" stroke-width="0.9"/>
<line x1="769.66" y1="393.40" x2="769.66" y2="400.40" stroke="#000" stroke-width="0.9"/>
<line x1="769.66" y1="675.10" x2="769.66" y2="689.10" stroke="#000" stroke-width="0.9"/>
<line x1="769.66" y1="751.10" x2="769.66" y2="744.10" stroke="#000" stroke-width="0.9"/>
<line x1="775.06" y1="393.40" x2="775.06" y2="400.40" stroke="#000" stroke-width="0.9"/>
<line x1="775.06" y1="675.10" x2="775.06" y2="689.10" stroke="#000" stroke-width="0.9"/>
<line x1="775.06" y1="751.10" x2="775.06" y2="744.10" stroke="#000" stroke-width="0.9"/>
<line x1="779.90" y1="393.40" x2="779.90" y2="407.60" stroke="#000" stroke-width="0.9"/>
<line x1="779.90" y1="667.90" x2="779.90" y2="696.30" stroke="#000" stroke-width="0.9"/>
<line x1="779.90" y1="751.10" x2="779.90" y2="736.90" stroke="#000" stroke-width="0.9"/>
<line x1="105.60" y1="278.64" x2="112.60" y2="278.64" stroke="#000" stroke-width="0.9"/>
<line x1="456.80" y1="278.64" x2="470.80" y2="278.64" stroke="#000" stroke-width="0.9"/>
<line x1="804.45" y1="278.64" x2="811.45" y2="278.64" stroke="#000" stroke-width="0.9"/>
<line x1="105.60" y1="266.97" x2="112.60" y2="266.97" stroke="#000" stroke-width="0.9"/>
<line x1="456.80" y1="266.97" x2="470.80" y2="266.97" stroke="#000" stroke-width="0.9"/>
<line x1="804.45" y1="266.97" x2="811.45" y2="266.97" stroke="#000" stroke-width="0.9"/>
<line x1="105.60" y1="258.68" x2="112.60" y2="258.68" stroke="#000" stroke-width="0.9"/>
<line x1="456.80" y1="258.68" x2="470.80" y2="258.68" stroke="#000" stroke-width="0.9"/>
<line x1="804.45" y1="258.68" x2="811.45" y2="258.68" stroke="#000" stroke-width="0.9"/>
<line x1="105.60" y1="252.26" x2="112.60" y2="252.26" stroke="#000" stroke-width="0.9"/>
<line x1="456.80" y1="252.26" x2="470.80" y2="252.26" stroke="#000" stroke-width="0.9"/>
<line x1="804.45" y1="252.26" x2="811.45" y2="252.26" stroke="#000" stroke-width="0.9"/>
<line x1="105.60" y1="247.01" x2="112.60" y2="247.01" stroke="#000" stroke-width="0.9"/>
<line x1="456.80" y1="247.01" x2="470.80" y2="247.01" stroke="#000" stroke-width="0.9"/>
<line x1="804.45" y1="247.01" x2="811.45" y2="247.01" stroke="#000" stroke-width="0.9"/>
<line x1="105.60" y1="242.57" x2="112.60" y2="242.57" stroke="#000" stroke-width="0.9"/>
<line x1="456.80" y1="242.57" x2="470.80" y2="242.57" stroke="#000" stroke-width="0.9"/>
<line x1="804.45" y1="242.57" x2="811.45" y2="242.57" stroke="#000" stroke-width="0.9"/>
<line x1="105.60" y1="238.73" x2="112.60" y2="238.73" stroke="#000" stroke-width="0.9"/>
<line x1="456.80" y1="238.73" x2="470.80" y2="238.73" stroke="#000" stroke-width="0.9"/>
<line x1="804.45" y1="238.73" x2="811.45" y2="238.73" stroke="#000" stroke-width="0.9"/>
<line x1="105.60" y1="235.33" x2="112.60" y2="235.33" stroke="#000" stroke-width="0.9"/>
<line x1="456.80" y1="235.33" x2="470.80" y2="235.33" stroke="#000" stroke-width="0.9"/>
<line x1="804.45" y1="235.33" x2="811.45" y2="235.33" stroke="#000" stroke-width="0.9"/>
<line x1="105.60" y1="232.30" x2="119.80" y2="232.30" stroke="#000" stroke-width="0.9"/>
<line x1="449.60" y1="232.30" x2="478.00" y2="232.30" stroke="#000" stroke-width="0.9"/>
<line x1="797.25" y1="232.30" x2="811.45" y2="232.30" stroke="#000" stroke-width="0.9"/>
<line x1="105.60" y1="212.34" x2="112.60" y2="212.34" stroke="#000" stroke-width="0.9"/>
<line x1="456.80" y1="212.34" x2="470.80" y2="212.34" stroke="#000" stroke-width="0.9"/>
<line x1="804.45" y1="212.34" x2="811.45" y2="212.34" stroke="#000" stroke-width="0.9"/>
<line x1="105.60" y1="200.67" x2="112.60" y2="200.67" stroke="#000" stroke-width="0.9"/>
<line x1="456.80" y1="200.67" x2="470.80" y2="200.67" stroke="#000" stroke-width="0.9"/>
<line x1="804.45" y1="200.67" x2="811.45" y2="200.67" stroke="#000" stroke-width="0.9"/>
<line x1="105.60" y1="192.38" x2="112.60" y2="192.38" stroke="#000" stroke-width="0.9"/>
<line x1="456.80" y1="192.38" x2="470.80" y2="192.38" stroke="#000" stroke-width="0.9"/>
<line x1="804.45" y1="192.38" x2="811.45" y2="192.38" stroke="#000" stroke-width="0.9"/>
<line x1="105.60" y1="185.96" x2="112.60" y2="185.96" stroke="#000" stroke-width="0.9"/>
<line x1="456.80" y1="185.96" x2="470.80" y2="185.96" stroke="#000" stroke-width="0.9"/>
<line x1="804.45" y1="185.96" x2="811.45" y2="185.96" stroke="#000" stroke-width="0.9"/>
<line x1="105.60" y1="180.71" x2="112.60" y2="180.71" stroke="#000" stroke-width="0.9"/>
<line x1="456.80" y1="180.71" x2="470.80" y2="180.71" stroke="#000" stroke-width="0.9"/>
<line x1="804.45" y1="180.71" x2="811.45" y2="180.71" stroke="#000" stroke-width="0.9"/>
<line x1="105.60" y1="176.27" x2="112.60" y2="176.27" stroke="#000" stroke-width="0.9"/>
<line x1="456.80" y1="176.27" x2="470.80" y2="176.27" stroke="#000" stroke-width="0.9"/>
<line x1="804.45" y1="176.27" x2="811.45" y2="176.27" stroke="#000" stroke-width="0.9"/>
<line x1="105.60" y1="172.43" x2="112.60" y2="172.43" stroke="#000" stroke-width="0.9"/>
<line x1="456.80" y1="172.43" x2="470.80" y2="172.43" stroke="#000" stroke-width="0.9"/>
<line x1="804.45" y1="172.43" x2="811.45" y2="172.43" stroke="#000" stroke-width="0.9"/>
<line x1="105.60" y1="169.03" x2="112.60" y2="169.03" stroke="#000" stroke-width="0.9"/>
<line x1="456.80" y1="169.03" x2="470.80" y2="169.03" stroke="#000" stroke-width="0.9"/>
<line x1="804.45" y1="169.03" x2="811.45" y2="169.03" stroke="#000" stroke-width="0.9"/>
<line x1="105.60" y1="166.00" x2="119.80" y2="166.00" stroke="#000" stroke-width="0.9"/>
<line x1="449.60" y1="166.00" x2="478.00" y2="166.00" stroke="#000" stroke-width="0.9"/>
<line x1="797.25" y1="166.00" x2="811.45" y2="166.00" stroke="#000" stroke-width="0.9"/>
<line x1="105.60" y1="146.04" x2="112.60" y2="146.04" stroke="#000" stroke-width="0.9"/>
<line x1="456.80" y1="146.04" x2="470.80" y2="146.04" stroke="#000" stroke-width="0.9"/>
<line x1="804.45" y1="146.04" x2="811.45" y2="146.04" stroke="#000" stroke-width="0.9"/>
<line x1="105.60" y1="134.37" x2="112.60" y2="134.37" stroke="#000" stroke-width="0.9"/>
<line x1="456.80" y1="134.37" x2="470.80" y2="134.37" stroke="#000" stroke-width="0.9"/>
<line x1="804.45" y1="134.37" x2="811.45" y2="134.37" stroke="#000" stroke-width="0.9"/>
<line x1="105.60" y1="126.08" x2="112.60" y2="126.08" stroke="#000" stroke-width="0.9"/>
<line x1="456.80" y1="126.08" x2="470.80" y2="126.08" stroke="#000" stroke-width="0.9"/>
<line x1="804.45" y1="126.08" x2="811.45" y2="126.08" stroke="#000" stroke-width="0.9"/>
<line x1="105.60" y1="119.66" x2="112.60" y2="119.66" stroke="#000" stroke-width="0.9"/>
<line x1="456.80" y1="119.66" x2="470.80" y2="119.66" stroke="#000" stroke-width="0.9"/>
<line x1="804.45" y1="119.66" x2="811.45" y2="119.66" stroke="#000" stroke-width="0.9"/>
<line x1="105.60" y1="114.41" x2="112.60" y2="114.41" stroke="#000" stroke-width="0.9"/>
<line x1="456.80" y1="114.41" x2="470.80" y2="114.41" stroke="#000" stroke-width="0.9"/>
<line x1="804.45" y1="114.41" x2="811.45" y2="114.41" stroke="#000" stroke-width="0.9"/>
<line x1="105.60" y1="109.97" x2="112.60" y2="109.97" stroke="#000" stroke-width="0.9"/>
<line x1="456.80" y1="109.97" x2="470.80" y2="109.97" stroke="#000" stroke-width="0.9"/>
<line x1="804.45" y1="109.97" x2="811.45" y2="109.97" stroke="#000" stroke-width="0.9"/>
<line x1="105.60" y1="106.13" x2="112.60" y2="106.13" stroke="#000" stroke-width="0.9"/>
<line x1="456.80" y1="106.13" x2="470.80" y2="106.13" stroke="#000" stroke-width="0.9"/>
<line x1="804.45" y1="106.13" x2="811.45" y2="106.13" stroke="#000" stroke-width="0.9"/>
<line x1="105.60" y1="102.73" x2="112.60" y2="102.73" stroke="#000" stroke-width="0.9"/>
<line x1="456.80" y1="102.73" x2="470.80" y2="102.73" stroke="#000" stroke-width="0.9"/>
<line x1="804.45" y1="102.73" x2="811.45" y2="102.73" stroke="#000" stroke-width="0.9"/>
<line x1="105.60" y1="99.70" x2="119.80" y2="99.70" stroke="#000" stroke-width="0.9"/>
<line x1="449.60" y1="99.70" x2="478.00" y2="99.70" stroke="#000" stroke-width="0.9"/>
<line x1="797.25" y1="99.70" x2="811.45" y2="99.70" stroke="#000" stroke-width="0.9"/>
<line x1="105.60" y1="79.74" x2="112.60" y2="79.74" stroke="#000" stroke-width="0.9"/>
<line x1="456.80" y1="79.74" x2="470.80" y2="79.74" stroke="#000" stroke-width="0.9"/>
<line x1="804.45" y1="79.74" x2="811.45" y2="79.74" stroke="#000" stroke-width="0.9"/>
<line x1="105.60" y1="68.07" x2="112.60" y2="68.07" stroke="#000" stroke-width="0.9"/>
<line x1="456.80" y1="68.07" x2="470.80" y2="68.07" stroke="#000" stroke-width="0.9"/>
<line x1="804.45" y1="68.07" x2="811.45" y2="68.07" stroke="#000" stroke-width="0.9"/>
<line x1="105.60" y1="59.78" x2="112.60" y2="59.78" stroke="#000" stroke-width="0.9"/>
<line x1="456.80" y1="59.78" x2="470.80" y2="59.78" stroke="#000" stroke-width="0.9"/>
<line x1="804.45" y1="59.78" x2="811.45" y2="59.78" stroke="#000" stroke-width="0.9"/>
<line x1="105.60" y1="53.36" x2="112.60" y2="53.36" stroke="#000" stroke-width="0.9"/>
<line x1="456.80" y1="53.36" x2="470.80" y2="53.36" stroke="#000" stroke-width="0.9"/>
<line x1="804.45" y1="53.36" x2="811.45" y2="53.36" stroke="#000" stroke-width="0.9"/>
<line x1="105.60" y1="48.11" x2="112.60" y2="48.11" stroke="#000" stroke-width="0.9"/>
<line x1="456.80" y1="48.11" x2="470.80" y2="48.11" stroke="#000" stroke-width="0.9"/>
<line x1="804.45" y1="48.11" x2="811.45" y2="48.11" stroke="#000" stroke-width="0.9"/>
<line x1="105.60" y1="43.67" x2="112.60" y2="43.67" stroke="#000" stroke-width="0.9"/>
<line x1="456.80" y1="43.67" x2="470.80" y2="43.67" stroke="#000" stroke-width="0.9"/>
<line x1="804.45" y1="43.67" x2="811.45" y2="43.67" stroke="#000" stroke-width="0.9"/>
<line x1="105.60" y1="39.83" x2="112.60" y2="39.83" stroke="#000" stroke-width="0.9"/>
<line x1="456.80" y1="39.83" x2="470.80" y2="39.83" stroke="#000" stroke-width="0.9"/>
<line x1="804.45" y1="39.83" x2="811.45" y2="39.83" stroke="#000" stroke-width="0.9"/>
<line x1="105.60" y1="36.43" x2="112.60" y2="36.43" stroke="#000" stroke-width="0.9"/>
<line x1="456.80" y1="36.43" x2="470.80" y2="36.43" stroke="#000" stroke-width="0.9"/>
<line x1="804.45" y1="36.43" x2="811.45" y2="36.43" stroke="#000" stroke-width="0.9"/>
<line x1="105.60" y1="33.40" x2="119.80" y2="33.40" stroke="#000" stroke-width="0.9"/>
<line x1="449.60" y1="33.40" x2="478.00" y2="33.40" stroke="#000" stroke-width="0.9"/>
<line x1="797.25" y1="33.40" x2="811.45" y2="33.40" stroke="#000" stroke-width="0.9"/>
<line x1="105.60" y1="655.00" x2="112.60" y2="655.00" stroke="#000" stroke-width="0.9"/>
<line x1="456.80" y1="655.00" x2="470.80" y2="655.00" stroke="#000" stroke-width="0.9"/>
<line x1="804.45" y1="655.00" x2="811.45" y2="655.00" stroke="#000" stroke-width="0.9"/>
<line x1="105.60" y1="639.14" x2="112.60" y2="639.14" stroke="#000" stroke-width="0.9"/>
<line x1="456.80" y1="639.14" x2="470.80" y2="639.14" stroke="#000" stroke-width="0.9"/>
<line x1="804.45" y1="639.14" x2="811.45" y2="639.14" stroke="#000" stroke-width="0.9"/>
<line x1="105.60" y1="627.88" x2="112.60" y2="627.88" stroke="#000" stroke-width="0.9"/>
<line x1="456.80" y1="627.88" x2="470.80" y2="627.88" stroke="#000" stroke-width="0.9"/>
<line x1="804.45" y1="627.88" x2="811.45" y2="627.88" stroke="#000" stroke-width="0.9"/>
<line x1="105.60" y1="619.15" x2="112.60" y2="619.15" stroke="#000" stroke-width="0.9"/>
<line x1="456.80" y1="619.15" x2="470.80" y2="619.15" stroke="#000" stroke-width="0.9"/>
<line x1="804.45" y1="619.15" x2="811.45" y2="619.15" stroke="#000" stroke-width="0.9"/>
<line x1="105.60" y1="612.02" x2="112.60" y2="612.02" stroke="#000" stroke-width="0.9"/>
<line x1="456.80" y1="612.02" x2="470.80" y2="612.02" stroke="#000" stroke-width="0.9"/>
<line x1="804.45" y1="612.02" x2="811.45" y2="612.02" stroke="#000" stroke-width="0.9"/>
<line x1="105.60" y1="605.99" x2="112.60" y2="605.99" stroke="#000" stroke-width="0.9"/>
<line x1="456.80" y1="605.99" x2="470.80" y2="605.99" stroke="#000" stroke-width="0.9"/>
<line x1="804.45" y1="605.99" x2="811.45" y2="605.99" stroke="#000" stroke-width="0.9"/>
<line x1="105.60" y1="600.77" x2="112.60" y2="600.77" stroke="#000" stroke-width="0.9"/>
<line x1="456.80" y1="600.77" x2="470.80" y2="600.77" stroke="#000" stroke-width="0.9"/>
<line x1="804.45" y1="600.77" x2="811.45" y2="600.77" stroke="#000" stroke-width="0.9"/>
<line x1="105.60" y1="596.16" x2="112.60" y2="596.16" stroke="#000" stroke-width="0.9"/>
<line x1="456.80" y1="596.16" x2="470.80" y2="596.16" stroke="#000" stroke-width="0.9"/>
<line x1="804.45" y1="596.16" x2="811.45" y2="596.16" stroke="#000" stroke-width="0.9"/>
<line x1="105.60" y1="592.04" x2="119.80" y2="592.04" stroke="#000" stroke-width="0.9"/>
<line x1="449.60" y1="592.04" x2="478.00" y2="592.04" stroke="#000" stroke-width="0.9"/>
<line x1="797.25" y1="592.04" x2="811.45" y2="592.04" stroke="#000" stroke-width="0.9"/>
<line x1="105.60" y1="564.93" x2="112.60" y2="564.93" stroke="#000" stroke-width="0.9"/>
<line x1="456.80" y1="564.93" x2="470.80" y2="564.93" stroke="#000" stroke-width="0.9"/>
<line x1="804.45" y1="564.93" x2="811.45" y2="564.93" stroke="#000" stroke-width="0.9"/>
<line x1="105.60" y1="549.07" x2="112.60" y2="549.07" stroke="#000" stroke-width="0.9"/>
<line x1="456.80" y1="549.07" x2="470.80" y2="549.07" stroke="#000" stroke-width="0.9"/>
<line x1="804.45" y1="549.07" x2="811.45" y2="549.07" stroke="#000" stroke-width="0.9"/>
<line x1="105.60" y1="537.81" x2="112.60" y2="537.81" stroke="#000" stroke-width="0.9"/>
<line x1="456.80" y1="537.81" x2="470.80" y2="537.81" stroke="#000" stroke-width="0.9"/>
<line x1="804.45" y1="537.81" x2="811.45" y2="537.81" stroke="#000" stroke-width="0.9"/>
<line x1="105.60" y1="529.08" x2="112.60" y2="529.08" stroke="#000" stroke-width="0.9"/>
<line x1="456.80" y1="529.08" x2="470.80" y2="529.08" stroke="#000" stroke-width="0.9"/>
<line x1="804.45" y1="529.08" x2="811.45" y2="529.08" stroke="#000" stroke-width="0.9"/>
<line x1="105.60" y1="521.95" x2="112.60" y2="521.95" stroke="#000" stroke-width="0.9"/>
<line x1="456.80" y1="521.95" x2="470.80" y2="521.95" stroke="#000" stroke-width="0.9"/>
<line x1="804.45" y1="521.95" x2="811.45" y2="521.95" stroke="#000" stroke-width="0.9"/>
<line x1="105.60" y1="515.92" x2="112.60" y2="515.92" stroke="#000" stroke-width="0.9"/>
<line x1="456.80" y1="515.92" x2="470.80" y2="515.92" stroke="#000" stroke-width="0.9"/>
<line x1="804.45" y1="515.92" x2="811.45" y2="515.92" stroke="#000" stroke-width="0.9"/>
<line x1="105.60" y1="510.70" x2="112.60" y2="510.70" stroke="#000" stroke-width="0.9"/>
<line x1="456.80" y1="510.70" x2="470.80" y2="510.70" stroke="#000" stroke-width="0.9"/>
<line x1="804.45" y1="510.70" x2="811.45" y2="510.70" stroke="#000" stroke-width="0.9"/>
<line x1="105.60" y1="506.09" x2="112.60" y2="506.09" stroke="#000" stroke-width="0.9"/>
<line x1="456.80" y1="506.09" x2="470.80" y2="506.09" stroke="#000" stroke-width="0.9"/>
<line x1="804.45" y1="506.09" x2="811.45" y2="506.09" stroke="#000" stroke-width="0.9"/>
<line x1="105.60" y1="501.97" x2="119.80" y2="501.97" stroke="#000" stroke-width="0.9"/>
<line x1="449.60" y1="501.97" x2="478.00" y2="501.97" stroke="#000" stroke-width="0.9"/>
<line x1="797.25" y1="501.97" x2="811.45" y2="501.97" stroke="#000" stroke-width="0.9"/>
<line x1="105.60" y1="474.86" x2="112.60" y2="474.86" stroke="#000" stroke-width="0.9"/>
<line x1="456.80" y1="474.86" x2="470.80" y2="474.86" stroke="#000" stroke-width="0.9"/>
<line x1="804.45" y1="474.86" x2="811.45" y2="474.86" stroke="#000" stroke-width="0.9"/>
<line x1="105.60" y1="459.00" x2="112.60" y2="459.00" stroke="#000" stroke-width="0.9"/>
<line x1="456.80" y1="459.00" x2="470.80" y2="459.00" stroke="#000" stroke-width="0.9"/>
<line x1="804.45" y1="459.00" x2="811.45" y2="459.00" stroke="#000" stroke-width="0.9"/>
<line x1="105.60" y1="447.74" x2="112.60" y2="447.74" stroke="#000" stroke-width="0.9"/>
<line x1="456.80" y1="447.74" x2="470.80" y2="447.74" stroke="#000" stroke-width="0.9"/>
<line x1="804.45" y1="447.74" x2="811.45" y2="447.74" stroke="#000" stroke-width="0.9"/>
<line x1="105.60" y1="439.01" x2="112.60" y2="439.01" stroke="#000" stroke-width="0.9"/>
<line x1="456.80" y1="439.01" x2="470.80" y2="439.01" stroke="#000" stroke-width="0.9"/>
<line x1="804.45" y1="439.01" x2="811.45" y2="439.01" stroke="#000" stroke-width="0.9"/>
<line x1="105.60" y1="431.88" x2="112.60" y2="431.88" stroke="#000" stroke-width="0.9"/>
<line x1="456.80" y1="431.88" x2="470.80" y2="431.88" stroke="#000" stroke-width="0.9"/>
<line x1="804.45" y1="431.88" x2="811.45" y2="431.88" stroke="#000" stroke-width="0.9"/>
<line x1="105.60" y1="425.85" x2="112.60" y2="425.85" stroke="#000" stroke-width="0.9"/>
<line x1="456.80" y1="425.85" x2="470.80" y2="425.85" stroke="#000" stroke-width="0.9"/>
<line x1="804.45" y1="425.85" x2="811.45" y2="425.85" stroke="#000" stroke-width="0.9"/>
<line x1="105.60" y1="420.63" x2="112.60" y2="420.63" stroke="#000" stroke-width="0.9"/>
<line x1="456.80" y1="420.63" x2="470.80" y2="420.63" stroke="#000" stroke-width="0.9"/>
<line x1="804.45" y1="420.63" x2="811.45" y2="420.63" stroke="#000" stroke-width="0.9"/>
<line x1="105.60" y1="416.02" x2="112.60" y2="416.02" stroke="#000" stroke-width="0.9"/>
<line x1="456.80" y1="416.02" x2="470.80" y2="416.02" stroke="#000" stroke-width="0.9"/>
<line x1="804.45" y1="416.02" x2="811.45" y2="416.02" stroke="#000" stroke-width="0.9"/>
<line x1="105.60" y1="411.90" x2="119.80" y2="411.90" stroke="#000" stroke-width="0.9"/>
<line x1="449.60" y1="411.90" x2="478.00" y2="411.90" stroke="#000" stroke-width="0.9"/>
<line x1="797.25" y1="411.90" x2="811.45" y2="411.90" stroke="#000" stroke-width="0.9"/>
<line x1="105.60" y1="307.12" x2="112.60" y2="307.12" stroke="#000" stroke-width="0.9"/>
<line x1="456.80" y1="307.12" x2="470.80" y2="307.12" stroke="#000" stroke-width="0.9"/>
<line x1="804.45" y1="307.12" x2="811.45" y2="307.12" stroke="#000" stroke-width="0.9"/>
<line x1="105.60" y1="315.79" x2="112.60" y2="315.79" stroke="#000" stroke-width="0.9"/>
<line x1="456.80" y1="315.79" x2="470.80" y2="315.79" stroke="#000" stroke-width="0.9"/>
<line x1="804.45" y1="315.79" x2="811.45" y2="315.79" stroke="#000" stroke-width="0.9"/>
<line x1="105.60" y1="324.46" x2="112.60" y2="324.46" stroke="#000" stroke-width="0.9"/>
<line x1="456.80" y1="324.46" x2="470.80" y2="324.46" stroke="#000" stroke-width="0.9"/>
<line x1="804.45" y1="324.46" x2="811.45" y2="324.46" stroke="#000" stroke-width="0.9"/>
<line x1="105.60" y1="333.12" x2="119.80" y2="333.12" stroke="#000" stroke-width="0.9"/>
<line x1="449.60" y1="333.12" x2="478.00" y2="333.12" stroke="#000" stroke-width="0.9"/>
<line x1="797.25" y1="333.12" x2="811.45" y2="333.12" stroke="#000" stroke-width="0.9"/>
<line x1="105.60" y1="341.79" x2="112.60" y2="341.79" stroke="#000" stroke-width="0.9"/>
<line x1="456.80" y1="341.79" x2="470.80" y2="341.79" stroke="#000" stroke-width="0.9"/>
<line x1="804.45" y1="341.79" x2="811.45" y2="341.79" stroke="#000" stroke-width="0.9"/>
<line x1="105.60" y1="350.46" x2="112.60" y2="350.46" stroke="#000" stroke-width="0.9"/>
<line x1="456.80" y1="350.46" x2="470.80" y2="350.46" stroke="#000" stroke-width="0.9"/>
<line x1="804.45" y1="350.46" x2="811.45" y2="350.46" stroke="#000" stroke-width="0.9"/>
<line x1="105.60" y1="359.13" x2="112.60" y2="359.13" stroke="#000" stroke-width="0.9"/>
<line x1="456.80" y1="359.13" x2="470.80" y2="359.13" stroke="#000" stroke-width="0.9"/>
<line x1="804.45" y1="359.13" x2="811.45" y2="359.13" stroke="#000" stroke-width="0.9"/>
<line x1="105.60" y1="699.35" x2="112.60" y2="699.35" stroke="#000" stroke-width="0.9"/>
<line x1="456.80" y1="699.35" x2="470.80" y2="699.35" stroke="#000" stroke-width="0.9"/>
<line x1="804.45" y1="699.35" x2="811.45" y2="699.35" stroke="#000" stroke-width="0.9"/>
<line x1="105.60" y1="716.60" x2="119.80" y2="716.60" stroke="#000" stroke-width="0.9"/>
<line x1="449.60" y1="716.60" x2="478.00" y2="716.60" stroke="#000" stroke-width="0.9"/>
<line x1="797.25" y1="716.60" x2="811.45" y2="716.60" stroke="#000" stroke-width="0.9"/>
<line x1="105.60" y1="733.85" x2="112.60" y2="733.85" stroke="#000" stroke-width="0.9"/>
<line x1="456.80" y1="733.85" x2="470.80" y2="733.85" stroke="#000" stroke-width="0.9"/>
<line x1="804.45" y1="733.85" x2="811.45" y2="733.85" stroke="#000" stroke-width="0.9"/>
</g>
<g font-family="'Liberation Serif', serif">
<text x="90.3" y="40.5" font-size="21" text-anchor="end" fill="#000" font-weight="normal">1</text>
<text x="90.3" y="106.7" font-size="21" text-anchor="end" fill="#000" font-weight="normal" textLength="29.0" lengthAdjust="spacingAndGlyphs">0.1</text>
<text x="90.3" y="173.0" font-size="21" text-anchor="end" fill="#000" font-weight="normal" textLength="42.4" lengthAdjust="spacingAndGlyphs">0.01</text>
<text x="51.0" y="240.9" font-size="21" text-anchor="start" fill="#000" font-weight="normal" textLength="22.5" lengthAdjust="spacingAndGlyphs">10</text>
<text x="76.2" y="234.0" font-size="13" text-anchor="start" fill="#000" font-weight="normal" textLength="17.0" lengthAdjust="spacingAndGlyphs" stroke="#000" stroke-width="0.2">−3</text>
<text x="90.3" y="418.9" font-size="21" text-anchor="end" fill="#000" font-weight="normal">1</text>
<text x="90.3" y="508.9" font-size="21" text-anchor="end" fill="#000" font-weight="normal" textLength="29.0" lengthAdjust="spacingAndGlyphs">0.1</text>
<text x="90.3" y="598.9" font-size="21" text-anchor="end" fill="#000" font-weight="normal" textLength="42.4" lengthAdjust="spacingAndGlyphs">0.01</text>
<text x="97.4" y="305.1" font-size="19.5" text-anchor="end" fill="#000" font-weight="normal" textLength="52.3" lengthAdjust="spacingAndGlyphs">+20%</text>
<text x="97.4" y="339.7" font-size="19.5" text-anchor="end" fill="#000" font-weight="normal" textLength="25.2" lengthAdjust="spacingAndGlyphs">0%</text>
<text x="97.4" y="374.7" font-size="19.5" text-anchor="end" fill="#000" font-weight="normal" textLength="52.3" lengthAdjust="spacingAndGlyphs">−20%</text>
<text x="97.4" y="688.8" font-size="19.5" text-anchor="end" fill="#000" font-weight="normal" textLength="52.3" lengthAdjust="spacingAndGlyphs">+10%</text>
<text x="97.4" y="723.4" font-size="19.5" text-anchor="end" fill="#000" font-weight="normal" textLength="25.2" lengthAdjust="spacingAndGlyphs">0%</text>
<text x="97.4" y="758.3" font-size="19.5" text-anchor="end" fill="#000" font-weight="normal" textLength="52.3" lengthAdjust="spacingAndGlyphs">−10%</text>
<text x="224.3" y="777.8" font-size="21" text-anchor="middle" fill="#000" font-weight="normal" textLength="43.0" lengthAdjust="spacingAndGlyphs">0.01</text>
<text x="344.6" y="777.8" font-size="21" text-anchor="middle" fill="#000" font-weight="normal" textLength="29.0" lengthAdjust="spacingAndGlyphs">0.1</text>
<text x="568.5" y="777.8" font-size="21" text-anchor="middle" fill="#000" font-weight="normal" textLength="43.0" lengthAdjust="spacingAndGlyphs">0.01</text>
<text x="674.2" y="777.8" font-size="21" text-anchor="middle" fill="#000" font-weight="normal" textLength="29.0" lengthAdjust="spacingAndGlyphs">0.1</text>
<text x="779.9" y="777.8" font-size="21" text-anchor="middle" fill="#000" font-weight="normal">1</text>
<text x="25.8" y="159.3" font-size="27" text-anchor="middle" fill="#000" font-weight="normal" textLength="69.7" lengthAdjust="spacingAndGlyphs" transform="rotate(-90 25.8 159.3)">|T(k)|</text>
<text x="25.8" y="537.5" font-size="27" text-anchor="middle" fill="#000" font-weight="normal" textLength="69.7" lengthAdjust="spacingAndGlyphs" transform="rotate(-90 25.8 537.5)">|T(k)|</text>
<text x="404.4" y="822.1" font-size="27" text-anchor="start" fill="#000" font-weight="normal" textLength="12.7" lengthAdjust="spacingAndGlyphs">k</text>
<text x="435.7" y="822.1" font-size="27" text-anchor="start" fill="#000" font-weight="normal" textLength="25.1" lengthAdjust="spacingAndGlyphs">(h</text>
<text x="478.1" y="822.1" font-size="27" text-anchor="start" fill="#000" font-weight="normal" textLength="50.3" lengthAdjust="spacingAndGlyphs">Mpc</text>
<text x="531.6" y="813.5" font-size="15" text-anchor="start" fill="#000" font-weight="normal" textLength="20.5" lengthAdjust="spacingAndGlyphs" stroke="#000" stroke-width="0.2">−1</text>
<text x="556.0" y="822.1" font-size="27" text-anchor="start" fill="#000" font-weight="normal" textLength="8.2" lengthAdjust="spacingAndGlyphs">)</text>
</g>
<path d="M23.6,326.6 L23.6,339.4 L6.6,333.0 Z" fill="none" stroke="#000" stroke-width="1.1" stroke-linejoin="miter"/>
<line x1="23.2" y1="339.0" x2="7.0" y2="332.9" stroke="#000" stroke-width="1.9"/>
<path d="M23.6,710.3 L23.6,723.1 L6.6,716.7 Z" fill="none" stroke="#000" stroke-width="1.1" stroke-linejoin="miter"/>
<line x1="23.2" y1="722.7" x2="7.0" y2="716.6" stroke="#000" stroke-width="1.9"/>
<g font-family="'Liberation Serif', serif">
<text x="123.9" y="242.3" font-size="23.5" text-anchor="start" fill="#000" font-weight="normal" textLength="16.2" lengthAdjust="spacingAndGlyphs">Ω</text>
<text x="141.5" y="249.2" font-size="14" text-anchor="start" fill="#000" font-weight="normal" textLength="8.2" lengthAdjust="spacingAndGlyphs" stroke="#000" stroke-width="0.2">b</text>
<line x1="151.1" y1="248.3" x2="167.5" y2="224.7" stroke="#000" stroke-width="1.1"/>
<text x="168.7" y="242.3" font-size="23.5" text-anchor="start" fill="#000" font-weight="normal" textLength="16.2" lengthAdjust="spacingAndGlyphs">Ω</text>
<text x="185.5" y="249.5" font-size="14" text-anchor="start" fill="#000" font-weight="normal" textLength="7.6" lengthAdjust="spacingAndGlyphs" stroke="#000" stroke-width="0.2">0</text>
<path d="M196.0,232.2 h15.2 M196.0,237.8 h15.2" stroke="#000" stroke-width="1.15" fill="none"/>
<text x="216.9" y="242.3" font-size="23.5" text-anchor="start" fill="#000" font-weight="normal" textLength="10.5" lengthAdjust="spacingAndGlyphs">1</text>
<text x="123.9" y="277.0" font-size="23.5" text-anchor="start" fill="#000" font-weight="normal" textLength="16.2" lengthAdjust="spacingAndGlyphs">Ω</text>
<text x="141.5" y="284.4" font-size="14" text-anchor="start" fill="#000" font-weight="normal" textLength="7.6" lengthAdjust="spacingAndGlyphs" stroke="#000" stroke-width="0.2">0</text>
<path d="M152.5,266.9 h15.2 M152.5,272.5 h15.2" stroke="#000" stroke-width="1.15" fill="none"/>
<text x="170.7" y="277.0" font-size="23.5" text-anchor="start" fill="#000" font-weight="normal" textLength="43.0" lengthAdjust="spacingAndGlyphs">0.2,</text>
<text x="231.0" y="277.0" font-size="23.5" text-anchor="start" fill="#000" font-weight="normal" textLength="14.4" lengthAdjust="spacingAndGlyphs">h</text>
<path d="M249.2,266.9 h15.2 M249.2,272.5 h15.2" stroke="#000" stroke-width="1.15" fill="none"/>
<text x="268.1" y="277.0" font-size="23.5" text-anchor="start" fill="#000" font-weight="normal" textLength="36.2" lengthAdjust="spacingAndGlyphs">0.5</text>
<text x="123.9" y="624.1" font-size="23.5" text-anchor="start" fill="#000" font-weight="normal" textLength="16.2" lengthAdjust="spacingAndGlyphs">Ω</text>
<text x="141.5" y="631.0" font-size="14" text-anchor="start" fill="#000" font-weight="normal" textLength="8.2" lengthAdjust="spacingAndGlyphs" stroke="#000" stroke-width="0.2">b</text>
<line x1="151.1" y1="630.1" x2="167.5" y2="606.5" stroke="#000" stroke-width="1.1"/>
<text x="168.7" y="624.1" font-size="23.5" text-anchor="start" fill="#000" font-weight="normal" textLength="16.2" lengthAdjust="spacingAndGlyphs">Ω</text>
<text x="185.5" y="631.3" font-size="14" text-anchor="start" fill="#000" font-weight="normal" textLength="7.6" lengthAdjust="spacingAndGlyphs" stroke="#000" stroke-width="0.2">0</text>
<path d="M196.0,614.0 h15.2 M196.0,619.6 h15.2" stroke="#000" stroke-width="1.15" fill="none"/>
<text x="215.4" y="624.1" font-size="23.5" text-anchor="start" fill="#000" font-weight="normal" textLength="36.2" lengthAdjust="spacingAndGlyphs">0.5</text>
<text x="123.9" y="659.5" font-size="23.5" text-anchor="start" fill="#000" font-weight="normal" textLength="16.2" lengthAdjust="spacingAndGlyphs">Ω</text>
<text x="141.5" y="666.9" font-size="14" text-anchor="start" fill="#000" font-weight="normal" textLength="7.6" lengthAdjust="spacingAndGlyphs" stroke="#000" stroke-width="0.2">0</text>
<path d="M152.5,649.4 h15.2 M152.5,655.0 h15.2" stroke="#000" stroke-width="1.15" fill="none"/>
<text x="170.7" y="659.5" font-size="23.5" text-anchor="start" fill="#000" font-weight="normal" textLength="43.0" lengthAdjust="spacingAndGlyphs">0.2,</text>
<text x="231.0" y="659.5" font-size="23.5" text-anchor="start" fill="#000" font-weight="normal" textLength="14.4" lengthAdjust="spacingAndGlyphs">h</text>
<path d="M249.2,649.4 h15.2 M249.2,655.0 h15.2" stroke="#000" stroke-width="1.15" fill="none"/>
<text x="268.1" y="659.5" font-size="23.5" text-anchor="start" fill="#000" font-weight="normal" textLength="36.2" lengthAdjust="spacingAndGlyphs">0.5</text>
<text x="482.2" y="242.3" font-size="23.5" text-anchor="start" fill="#000" font-weight="normal" textLength="16.2" lengthAdjust="spacingAndGlyphs">Ω</text>
<text x="499.8" y="249.2" font-size="14" text-anchor="start" fill="#000" font-weight="normal" textLength="8.2" lengthAdjust="spacingAndGlyphs" stroke="#000" stroke-width="0.2">b</text>
<line x1="509.4" y1="248.3" x2="525.8" y2="224.7" stroke="#000" stroke-width="1.1"/>
<text x="527.0" y="242.3" font-size="23.5" text-anchor="start" fill="#000" font-weight="normal" textLength="16.2" lengthAdjust="spacingAndGlyphs">Ω</text>
<text x="543.8" y="249.5" font-size="14" text-anchor="start" fill="#000" font-weight="normal" textLength="7.6" lengthAdjust="spacingAndGlyphs" stroke="#000" stroke-width="0.2">0</text>
<path d="M554.3,232.2 h15.2 M554.3,237.8 h15.2" stroke="#000" stroke-width="1.15" fill="none"/>
<text x="575.2" y="242.3" font-size="23.5" text-anchor="start" fill="#000" font-weight="normal" textLength="10.5" lengthAdjust="spacingAndGlyphs">1</text>
<text x="482.2" y="277.0" font-size="23.5" text-anchor="start" fill="#000" font-weight="normal" textLength="16.2" lengthAdjust="spacingAndGlyphs">Ω</text>
<text x="499.8" y="284.4" font-size="14" text-anchor="start" fill="#000" font-weight="normal" textLength="7.6" lengthAdjust="spacingAndGlyphs" stroke="#000" stroke-width="0.2">0</text>
<path d="M510.8,266.9 h15.2 M510.8,272.5 h15.2" stroke="#000" stroke-width="1.15" fill="none"/>
<text x="531.6" y="277.0" font-size="23.5" text-anchor="start" fill="#000" font-weight="normal" textLength="16.9" lengthAdjust="spacingAndGlyphs">1,</text>
<text x="565.0" y="277.0" font-size="23.5" text-anchor="start" fill="#000" font-weight="normal" textLength="14.4" lengthAdjust="spacingAndGlyphs">h</text>
<path d="M583.4,266.9 h15.2 M583.4,272.5 h15.2" stroke="#000" stroke-width="1.15" fill="none"/>
<text x="602.1" y="277.0" font-size="23.5" text-anchor="start" fill="#000" font-weight="normal" textLength="36.2" lengthAdjust="spacingAndGlyphs">0.5</text>
<text x="482.2" y="624.1" font-size="23.5" text-anchor="start" fill="#000" font-weight="normal" textLength="16.2" lengthAdjust="spacingAndGlyphs">Ω</text>
<text x="499.8" y="631.0" font-size="14" text-anchor="start" fill="#000" font-weight="normal" textLength="8.2" lengthAdjust="spacingAndGlyphs" stroke="#000" stroke-width="0.2">b</text>
<line x1="509.4" y1="630.1" x2="525.8" y2="606.5" stroke="#000" stroke-width="1.1"/>
<text x="527.0" y="624.1" font-size="23.5" text-anchor="start" fill="#000" font-weight="normal" textLength="16.2" lengthAdjust="spacingAndGlyphs">Ω</text>
<text x="543.8" y="631.3" font-size="14" text-anchor="start" fill="#000" font-weight="normal" textLength="7.6" lengthAdjust="spacingAndGlyphs" stroke="#000" stroke-width="0.2">0</text>
<path d="M554.3,614.0 h15.2 M554.3,619.6 h15.2" stroke="#000" stroke-width="1.15" fill="none"/>
<text x="573.7" y="624.1" font-size="23.5" text-anchor="start" fill="#000" font-weight="normal" textLength="36.2" lengthAdjust="spacingAndGlyphs">0.5</text>
<text x="482.2" y="659.5" font-size="23.5" text-anchor="start" fill="#000" font-weight="normal" textLength="16.2" lengthAdjust="spacingAndGlyphs">Ω</text>
<text x="499.8" y="666.9" font-size="14" text-anchor="start" fill="#000" font-weight="normal" textLength="7.6" lengthAdjust="spacingAndGlyphs" stroke="#000" stroke-width="0.2">0</text>
<path d="M510.8,649.4 h15.2 M510.8,655.0 h15.2" stroke="#000" stroke-width="1.15" fill="none"/>
<text x="531.6" y="659.5" font-size="23.5" text-anchor="start" fill="#000" font-weight="normal" textLength="16.9" lengthAdjust="spacingAndGlyphs">1,</text>
<text x="565.0" y="659.5" font-size="23.5" text-anchor="start" fill="#000" font-weight="normal" textLength="14.4" lengthAdjust="spacingAndGlyphs">h</text>
<path d="M583.4,649.4 h15.2 M583.4,655.0 h15.2" stroke="#000" stroke-width="1.15" fill="none"/>
<text x="602.1" y="659.5" font-size="23.5" text-anchor="start" fill="#000" font-weight="normal" textLength="36.2" lengthAdjust="spacingAndGlyphs">0.5</text>
<path d="M480.8,494.3 H492.9 M501.3,494.3 H512.2" stroke="#0000ff" stroke-width="2.6" fill="none"/>
<text x="517.0" y="501.0" font-size="22" text-anchor="start" fill="#0000ff" font-weight="normal" textLength="24.1" lengthAdjust="spacingAndGlyphs">fit</text>
<path d="M480.8,517.9 H515.8" stroke="#000" stroke-width="1" fill="none"/>
<text x="517.0" y="524.4" font-size="22" text-anchor="start" fill="#000" font-weight="normal" textLength="113.2" lengthAdjust="spacingAndGlyphs">numerical</text>
<path d="M480.8,543.7 H515.5" stroke="#ff0000" stroke-width="1.15" stroke-dasharray="1.9 3.9" fill="none"/>
<text x="517.0" y="547.8" font-size="22" text-anchor="start" fill="#ff0000" font-weight="normal" textLength="137.3" lengthAdjust="spacingAndGlyphs">zero baryon</text>
</g>
<g font-family="'Liberation Serif', serif">
<text x="171.6" y="69.9" font-size="24" text-anchor="start" fill="#000" font-weight="normal" textLength="12.5" lengthAdjust="spacingAndGlyphs">k</text>
<text x="185.8" y="76.2" font-size="13.5" text-anchor="start" fill="#000" font-weight="normal" textLength="16.1" lengthAdjust="spacingAndGlyphs" stroke="#000" stroke-width="0.2">eq</text>
<path d="M207.9,79.0 L207.9,54.0 M200.8,62.6 L207.9,54.0 L215.0,62.6" fill="none" stroke="#000" stroke-width="1.1" stroke-linejoin="miter"/>
<text x="364.9" y="91.0" font-size="24" text-anchor="start" fill="#000" font-weight="normal" textLength="12.6" lengthAdjust="spacingAndGlyphs">k</text>
<text x="378.9" y="98.2" font-size="14" text-anchor="start" fill="#000" font-weight="normal" textLength="25.8" lengthAdjust="spacingAndGlyphs" stroke="#000" stroke-width="0.2">Silk</text>
<path d="M384.9,101.0 L384.9,125.5 M377.8,116.9 L384.9,125.5 L392.0,116.9" fill="none" stroke="#000" stroke-width="1.1" stroke-linejoin="miter"/>
<text x="591.1" y="75.8" font-size="24" text-anchor="start" fill="#000" font-weight="normal" textLength="12.5" lengthAdjust="spacingAndGlyphs">k</text>
<text x="605.3" y="82.1" font-size="13.5" text-anchor="start" fill="#000" font-weight="normal" textLength="16.1" lengthAdjust="spacingAndGlyphs" stroke="#000" stroke-width="0.2">eq</text>
<path d="M627.7,84.9 L627.7,59.9 M620.6,68.5 L627.7,59.9 L634.8,68.5" fill="none" stroke="#000" stroke-width="1.1" stroke-linejoin="miter"/>
<text x="749.6" y="77.1" font-size="24" text-anchor="start" fill="#000" font-weight="normal" textLength="12.6" lengthAdjust="spacingAndGlyphs">k</text>
<text x="763.6" y="84.3" font-size="14" text-anchor="start" fill="#000" font-weight="normal" textLength="25.8" lengthAdjust="spacingAndGlyphs" stroke="#000" stroke-width="0.2">Silk</text>
<path d="M768.7,87.1 L768.7,111.6 M761.6,103.0 L768.7,111.6 L775.8,103.0" fill="none" stroke="#000" stroke-width="1.1" stroke-linejoin="miter"/>
<text x="172.1" y="450.3" font-size="24" text-anchor="start" fill="#000" font-weight="normal" textLength="12.5" lengthAdjust="spacingAndGlyphs">k</text>
<text x="186.3" y="456.6" font-size="13.5" text-anchor="start" fill="#000" font-weight="normal" textLength="16.1" lengthAdjust="spacingAndGlyphs" stroke="#000" stroke-width="0.2">eq</text>
<path d="M207.7,459.4 L207.7,434.4 M200.6,443.0 L207.7,434.4 L214.8,443.0" fill="none" stroke="#000" stroke-width="1.1" stroke-linejoin="miter"/>
<text x="347.4" y="487.9" font-size="24" text-anchor="start" fill="#000" font-weight="normal" textLength="12.6" lengthAdjust="spacingAndGlyphs">k</text>
<text x="361.4" y="495.1" font-size="14" text-anchor="start" fill="#000" font-weight="normal" textLength="25.8" lengthAdjust="spacingAndGlyphs" stroke="#000" stroke-width="0.2">Silk</text>
<path d="M365.9,497.9 L365.9,522.4 M358.8,513.8 L365.9,522.4 L373.0,513.8" fill="none" stroke="#000" stroke-width="1.1" stroke-linejoin="miter"/>
<text x="591.6" y="459.8" font-size="24" text-anchor="start" fill="#000" font-weight="normal" textLength="12.5" lengthAdjust="spacingAndGlyphs">k</text>
<text x="605.8" y="466.1" font-size="13.5" text-anchor="start" fill="#000" font-weight="normal" textLength="16.1" lengthAdjust="spacingAndGlyphs" stroke="#000" stroke-width="0.2">eq</text>
<path d="M627.7,468.9 L627.7,443.9 M620.6,452.5 L627.7,443.9 L634.8,452.5" fill="none" stroke="#000" stroke-width="1.1" stroke-linejoin="miter"/>
<text x="733.3" y="469.9" font-size="24" text-anchor="start" fill="#000" font-weight="normal" textLength="12.6" lengthAdjust="spacingAndGlyphs">k</text>
<text x="747.3" y="477.1" font-size="14" text-anchor="start" fill="#000" font-weight="normal" textLength="25.8" lengthAdjust="spacingAndGlyphs" stroke="#000" stroke-width="0.2">Silk</text>
<path d="M752.9,479.9 L752.9,504.4 M745.8,495.8 L752.9,504.4 L760.0,495.8" fill="none" stroke="#000" stroke-width="1.1" stroke-linejoin="miter"/>
</g>
</svg>
</body></html>
